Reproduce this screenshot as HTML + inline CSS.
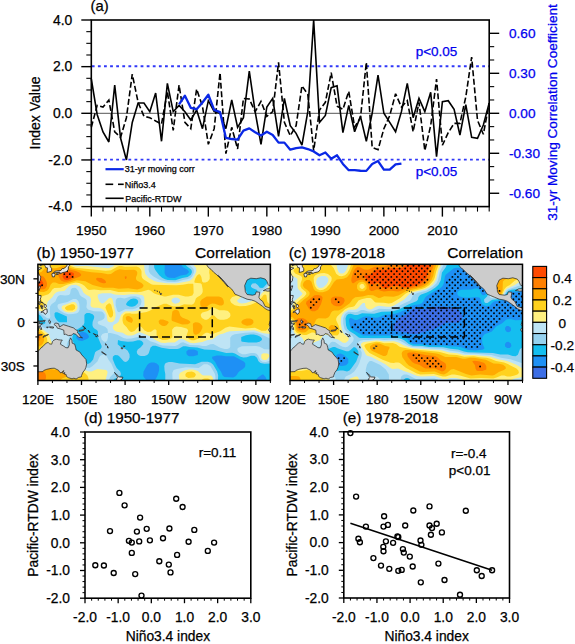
<!DOCTYPE html>
<html><head><meta charset="utf-8"><style>
html,body{margin:0;padding:0;background:#fff;overflow:hidden}
svg{display:block}
text{font-family:"Liberation Sans", sans-serif;stroke-width:0.25px}
</style></head><body>
<svg width="575" height="644" viewBox="0 0 575 644">
<rect width="575" height="644" fill="#fff"/>
<line x1="91.3" y1="113.30" x2="489.2" y2="113.30" stroke="#555" stroke-width="1"/>
<line x1="91.8" y1="66.25" x2="489.2" y2="66.25" stroke="#3038F8" stroke-width="1.8" stroke-dasharray="2.8 3.3"/>
<line x1="91.8" y1="159.55" x2="489.2" y2="159.55" stroke="#3038F8" stroke-width="1.8" stroke-dasharray="2.8 3.3"/>
<polyline points="91.30,127.30 97.15,105.37 103.00,107.00 108.85,100.00 114.71,131.96 120.56,137.32 126.41,117.73 132.26,74.11 138.11,102.34 143.96,116.33 149.81,117.73 155.67,121.00 161.52,124.03 167.37,91.37 173.22,130.33 179.07,85.08 184.92,122.40 190.77,128.69 196.63,89.04 202.48,106.30 208.33,144.32 214.18,128.69 220.03,72.71 225.88,153.65 231.74,127.30 237.59,148.99 243.44,98.37 249.29,99.07 255.14,111.67 260.99,101.40 266.84,116.33 272.70,111.67 278.55,62.45 284.40,122.40 290.25,135.69 296.10,125.66 301.95,85.78 307.80,94.41 313.66,150.62 319.51,110.03 325.36,102.34 331.21,72.71 337.06,106.30 342.91,109.33 348.76,91.37 354.62,127.06 360.47,117.73 366.32,62.45 372.17,147.35 378.02,149.69 383.87,128.69 389.72,115.63 395.58,93.71 401.43,107.00 407.28,100.70 413.13,131.73 418.98,102.34 424.83,150.62 430.69,125.66 436.54,79.01 442.39,145.26 448.24,132.66 454.09,123.33 459.94,123.33 465.79,96.97 471.65,57.09 477.50,120.30 483.35,134.29 489.20,103.04" fill="none" stroke="#000" stroke-width="1.6" stroke-dasharray="6 2.6" stroke-linejoin="miter" stroke-miterlimit="3"/>
<polyline points="91.30,78.78 97.15,114.47 103.00,131.96 108.85,141.99 114.71,85.08 120.56,138.02 126.41,159.95 132.26,122.40 138.11,103.04 143.96,103.04 149.81,111.67 155.67,93.01 161.52,141.29 167.37,83.44 173.22,111.67 179.07,105.37 184.92,111.67 190.77,120.06 196.63,110.03 202.48,128.69 208.33,100.70 214.18,111.67 220.03,113.30 225.88,128.69 231.74,100.00 237.59,127.30 243.44,117.73 249.29,71.08 255.14,111.67 260.99,144.32 266.84,107.00 272.70,98.37 278.55,136.39 284.40,98.37 290.25,125.66 296.10,133.36 301.95,145.02 307.80,111.67 313.66,20.00 319.51,122.40 325.36,115.40 331.21,87.64 337.06,85.78 342.91,132.66 348.76,105.37 354.62,131.73 360.47,116.33 366.32,141.29 372.17,113.30 378.02,75.05 383.87,113.30 389.72,122.40 395.58,131.73 401.43,111.67 407.28,83.44 413.13,117.73 418.98,98.37 424.83,111.67 430.69,92.31 436.54,156.68 442.39,101.64 448.24,100.70 454.09,109.33 459.94,134.99 465.79,104.67 471.65,137.32 477.50,138.26 483.35,124.96 489.20,103.04" fill="none" stroke="#000" stroke-width="1.6" stroke-linejoin="miter" stroke-miterlimit="3"/>
<polyline points="179.07,104.37 184.92,95.71 190.77,107.84 196.63,109.17 202.48,102.50 208.33,94.77 214.18,109.83 220.03,112.10 225.88,137.96 231.74,139.02 237.59,139.56 243.44,130.63 249.29,128.36 255.14,132.23 260.99,135.56 266.84,131.69 272.70,135.03 278.55,142.62 284.40,142.62 290.25,149.69 296.10,148.09 301.95,147.42 307.80,149.02 313.66,151.42 319.51,155.28 325.36,152.49 331.21,158.75 337.06,155.28 342.91,163.95 348.76,170.21 354.62,170.21 360.47,170.75 366.32,170.88 372.17,163.95 378.02,161.02 383.87,169.68 389.72,169.68 395.58,164.48 401.43,163.55" fill="none" stroke="#0A28E6" stroke-width="2.3" stroke-linejoin="round"/>
<rect x="91.3" y="20.0" width="397.90" height="186.60" fill="none" stroke="#000" stroke-width="1.6"/>
<line x1="81.30" y1="20.00" x2="91.30" y2="20.00" stroke="#000" stroke-width="1.4" />
<text x="72.3" y="24.8" font-size="13.9" text-anchor="end" fill="#000" stroke="#000" >4.0</text>
<line x1="86.30" y1="31.66" x2="91.30" y2="31.66" stroke="#000" stroke-width="1.1" />
<line x1="86.30" y1="43.33" x2="91.30" y2="43.33" stroke="#000" stroke-width="1.1" />
<line x1="86.30" y1="54.99" x2="91.30" y2="54.99" stroke="#000" stroke-width="1.1" />
<line x1="81.30" y1="66.65" x2="91.30" y2="66.65" stroke="#000" stroke-width="1.4" />
<text x="72.3" y="71.45" font-size="13.9" text-anchor="end" fill="#000" stroke="#000" >2.0</text>
<line x1="86.30" y1="78.31" x2="91.30" y2="78.31" stroke="#000" stroke-width="1.1" />
<line x1="86.30" y1="89.97" x2="91.30" y2="89.97" stroke="#000" stroke-width="1.1" />
<line x1="86.30" y1="101.64" x2="91.30" y2="101.64" stroke="#000" stroke-width="1.1" />
<line x1="81.30" y1="113.30" x2="91.30" y2="113.30" stroke="#000" stroke-width="1.4" />
<text x="72.3" y="118.1" font-size="13.9" text-anchor="end" fill="#000" stroke="#000" >0.0</text>
<line x1="86.30" y1="124.96" x2="91.30" y2="124.96" stroke="#000" stroke-width="1.1" />
<line x1="86.30" y1="136.62" x2="91.30" y2="136.62" stroke="#000" stroke-width="1.1" />
<line x1="86.30" y1="148.29" x2="91.30" y2="148.29" stroke="#000" stroke-width="1.1" />
<line x1="81.30" y1="159.95" x2="91.30" y2="159.95" stroke="#000" stroke-width="1.4" />
<text x="72.3" y="164.75" font-size="13.9" text-anchor="end" fill="#000" stroke="#000" >-2.0</text>
<line x1="86.30" y1="171.61" x2="91.30" y2="171.61" stroke="#000" stroke-width="1.1" />
<line x1="86.30" y1="183.27" x2="91.30" y2="183.27" stroke="#000" stroke-width="1.1" />
<line x1="86.30" y1="194.94" x2="91.30" y2="194.94" stroke="#000" stroke-width="1.1" />
<line x1="81.30" y1="206.60" x2="91.30" y2="206.60" stroke="#000" stroke-width="1.4" />
<text x="72.3" y="211.4" font-size="13.9" text-anchor="end" fill="#000" stroke="#000" >-4.0</text>
<line x1="489.20" y1="33.33" x2="499.20" y2="33.33" stroke="#000" stroke-width="1.4" />
<text x="509.0" y="38.12857142857142" font-size="13.6" text-anchor="start" fill="#0000EE" stroke="#0000EE" >0.60</text>
<line x1="489.20" y1="46.66" x2="494.20" y2="46.66" stroke="#000" stroke-width="1.1" />
<line x1="489.20" y1="59.99" x2="494.20" y2="59.99" stroke="#000" stroke-width="1.1" />
<line x1="489.20" y1="73.31" x2="499.20" y2="73.31" stroke="#000" stroke-width="1.4" />
<text x="509.0" y="78.11428571428571" font-size="13.6" text-anchor="start" fill="#0000EE" stroke="#0000EE" >0.30</text>
<line x1="489.20" y1="86.64" x2="494.20" y2="86.64" stroke="#000" stroke-width="1.1" />
<line x1="489.20" y1="99.97" x2="494.20" y2="99.97" stroke="#000" stroke-width="1.1" />
<line x1="489.20" y1="113.30" x2="499.20" y2="113.30" stroke="#000" stroke-width="1.4" />
<text x="509.0" y="118.10000000000001" font-size="13.6" text-anchor="start" fill="#0000EE" stroke="#0000EE" >0.00</text>
<line x1="489.20" y1="126.63" x2="494.20" y2="126.63" stroke="#000" stroke-width="1.1" />
<line x1="489.20" y1="139.96" x2="494.20" y2="139.96" stroke="#000" stroke-width="1.1" />
<line x1="489.20" y1="153.29" x2="499.20" y2="153.29" stroke="#000" stroke-width="1.4" />
<text x="509.0" y="158.0857142857143" font-size="13.6" text-anchor="start" fill="#0000EE" stroke="#0000EE" >-0.30</text>
<line x1="489.20" y1="166.61" x2="494.20" y2="166.61" stroke="#000" stroke-width="1.1" />
<line x1="489.20" y1="179.94" x2="494.20" y2="179.94" stroke="#000" stroke-width="1.1" />
<line x1="489.20" y1="193.27" x2="499.20" y2="193.27" stroke="#000" stroke-width="1.4" />
<text x="509.0" y="198.07142857142858" font-size="13.6" text-anchor="start" fill="#0000EE" stroke="#0000EE" >-0.60</text>
<line x1="91.30" y1="206.60" x2="91.30" y2="216.60" stroke="#000" stroke-width="1.4" />
<text x="91.3" y="235" font-size="13.7" text-anchor="middle" fill="#000" stroke="#000" >1950</text>
<line x1="103.00" y1="206.60" x2="103.00" y2="211.60" stroke="#000" stroke-width="1.1" />
<line x1="114.71" y1="206.60" x2="114.71" y2="211.60" stroke="#000" stroke-width="1.1" />
<line x1="126.41" y1="206.60" x2="126.41" y2="211.60" stroke="#000" stroke-width="1.1" />
<line x1="138.11" y1="206.60" x2="138.11" y2="211.60" stroke="#000" stroke-width="1.1" />
<line x1="149.81" y1="206.60" x2="149.81" y2="216.60" stroke="#000" stroke-width="1.4" />
<text x="149.81470588235294" y="235" font-size="13.7" text-anchor="middle" fill="#000" stroke="#000" >1960</text>
<line x1="161.52" y1="206.60" x2="161.52" y2="211.60" stroke="#000" stroke-width="1.1" />
<line x1="173.22" y1="206.60" x2="173.22" y2="211.60" stroke="#000" stroke-width="1.1" />
<line x1="184.92" y1="206.60" x2="184.92" y2="211.60" stroke="#000" stroke-width="1.1" />
<line x1="196.63" y1="206.60" x2="196.63" y2="211.60" stroke="#000" stroke-width="1.1" />
<line x1="208.33" y1="206.60" x2="208.33" y2="216.60" stroke="#000" stroke-width="1.4" />
<text x="208.32941176470587" y="235" font-size="13.7" text-anchor="middle" fill="#000" stroke="#000" >1970</text>
<line x1="220.03" y1="206.60" x2="220.03" y2="211.60" stroke="#000" stroke-width="1.1" />
<line x1="231.74" y1="206.60" x2="231.74" y2="211.60" stroke="#000" stroke-width="1.1" />
<line x1="243.44" y1="206.60" x2="243.44" y2="211.60" stroke="#000" stroke-width="1.1" />
<line x1="255.14" y1="206.60" x2="255.14" y2="211.60" stroke="#000" stroke-width="1.1" />
<line x1="266.84" y1="206.60" x2="266.84" y2="216.60" stroke="#000" stroke-width="1.4" />
<text x="266.8441176470588" y="235" font-size="13.7" text-anchor="middle" fill="#000" stroke="#000" >1980</text>
<line x1="278.55" y1="206.60" x2="278.55" y2="211.60" stroke="#000" stroke-width="1.1" />
<line x1="290.25" y1="206.60" x2="290.25" y2="211.60" stroke="#000" stroke-width="1.1" />
<line x1="301.95" y1="206.60" x2="301.95" y2="211.60" stroke="#000" stroke-width="1.1" />
<line x1="313.66" y1="206.60" x2="313.66" y2="211.60" stroke="#000" stroke-width="1.1" />
<line x1="325.36" y1="206.60" x2="325.36" y2="216.60" stroke="#000" stroke-width="1.4" />
<text x="325.3588235294118" y="235" font-size="13.7" text-anchor="middle" fill="#000" stroke="#000" >1990</text>
<line x1="337.06" y1="206.60" x2="337.06" y2="211.60" stroke="#000" stroke-width="1.1" />
<line x1="348.76" y1="206.60" x2="348.76" y2="211.60" stroke="#000" stroke-width="1.1" />
<line x1="360.47" y1="206.60" x2="360.47" y2="211.60" stroke="#000" stroke-width="1.1" />
<line x1="372.17" y1="206.60" x2="372.17" y2="211.60" stroke="#000" stroke-width="1.1" />
<line x1="383.87" y1="206.60" x2="383.87" y2="216.60" stroke="#000" stroke-width="1.4" />
<text x="383.8735294117647" y="235" font-size="13.7" text-anchor="middle" fill="#000" stroke="#000" >2000</text>
<line x1="395.58" y1="206.60" x2="395.58" y2="211.60" stroke="#000" stroke-width="1.1" />
<line x1="407.28" y1="206.60" x2="407.28" y2="211.60" stroke="#000" stroke-width="1.1" />
<line x1="418.98" y1="206.60" x2="418.98" y2="211.60" stroke="#000" stroke-width="1.1" />
<line x1="430.69" y1="206.60" x2="430.69" y2="211.60" stroke="#000" stroke-width="1.1" />
<line x1="442.39" y1="206.60" x2="442.39" y2="216.60" stroke="#000" stroke-width="1.4" />
<text x="442.38823529411764" y="235" font-size="13.7" text-anchor="middle" fill="#000" stroke="#000" >2010</text>
<line x1="454.09" y1="206.60" x2="454.09" y2="211.60" stroke="#000" stroke-width="1.1" />
<line x1="465.79" y1="206.60" x2="465.79" y2="211.60" stroke="#000" stroke-width="1.1" />
<line x1="477.50" y1="206.60" x2="477.50" y2="211.60" stroke="#000" stroke-width="1.1" />
<line x1="489.20" y1="206.60" x2="489.20" y2="211.60" stroke="#000" stroke-width="1.1" />
<text x="99.6" y="11.3" font-size="14.8" text-anchor="middle" fill="#000" stroke="#000" >(a)</text>
<text transform="translate(39.5,113) rotate(-90)" font-size="14" text-anchor="middle" stroke="#000">Index Value</text>
<text transform="translate(556.6,112.5) rotate(-90)" font-size="13.6" text-anchor="middle" fill="#0000EE" stroke="#0000EE">31-yr Moving Correlation Coefficient</text>
<text x="436.5" y="56.4" font-size="13.5" text-anchor="middle" fill="#0000EE" stroke="#0000EE" >p&lt;0.05</text>
<text x="436.5" y="176.4" font-size="13.5" text-anchor="middle" fill="#0000EE" stroke="#0000EE" >p&lt;0.05</text>
<line x1="105.50" y1="169.20" x2="123.70" y2="169.20" stroke="#0A28E6" stroke-width="2.2" />
<text x="124.7" y="172.4" font-size="9" text-anchor="start" fill="#000" stroke="#000" >31-yr moving corr</text>
<line x1="105.50" y1="184.30" x2="113.20" y2="184.30" stroke="#000" stroke-width="1.6" />
<line x1="118.00" y1="184.30" x2="123.70" y2="184.30" stroke="#000" stroke-width="1.6" />
<text x="124.7" y="187.5" font-size="9" text-anchor="start" fill="#000" stroke="#000" >Niño3.4</text>
<line x1="105.50" y1="198.30" x2="123.70" y2="198.30" stroke="#000" stroke-width="1.6" />
<text x="125.2" y="201.5" font-size="9" text-anchor="start" fill="#000" stroke="#000" >Pacific-RTDW</text>
<g transform="translate(37.9,264.3)">
<clipPath id="clipb"><rect x="0" y="0" width="232.5" height="116.2"/></clipPath>
<g clip-path="url(#clipb)">
<g transform="scale(1.0022,1.0017)">
<rect x="0" y="0" width="232.0" height="116.0" fill="#3C6EE6"/>
<path fill="#1E90F5" fill-rule="evenodd" d="M0.1,0.1L0.1,115.9L231.9,115.9L231.9,0.1Z"/>
<path fill="#14BEF0" fill-rule="evenodd" d="M0.1,0.1L0.1,115.9L108.4,115.9L105.6,112.4L105.1,110.9L105.4,107.1L109.1,100.6L110.9,98.9L113.1,98.1L115.9,98.1L118.6,99.1L120.4,100.9L120.9,102.1L120.9,106.1L119.4,111.1L117.6,114.4L116.1,115.9L217.4,115.9L219.6,112.9L223.9,110.1L224.9,110.1L227.1,112.4L228.6,115.9L231.9,115.9L231.9,0.1L142.6,0.1L144.9,2.9L148.9,5.1L150.6,6.9L150.6,8.1L148.4,10.1L142.4,11.1L136.4,13.6L130.9,13.4L129.1,12.6L127.4,11.1L126.4,8.6L126.6,0.1ZM173.9,92.4L178.6,91.1L183.1,91.1L187.1,91.9L195.6,91.9L205.4,97.1L206.9,98.9L206.9,101.6L206.4,102.9L204.6,104.6L201.4,106.4L199.9,107.9L198.4,110.6L196.9,112.1L194.9,112.9L186.1,112.4L184.4,110.9L182.6,106.9L179.4,102.6L176.9,97.6L173.9,94.1ZM148.1,87.1L150.4,85.1L155.9,85.1L158.9,86.4L159.6,87.1L159.6,90.6L154.9,91.9L151.1,91.9L149.9,91.4L148.4,89.9ZM47.6,68.1L49.6,69.9L50.9,71.9L50.9,72.9L49.4,74.4L44.1,76.6L40.6,76.1L38.4,73.9L38.4,71.6L40.6,68.9L44.4,67.4Z"/>
<path fill="#96D2F0" fill-rule="evenodd" d="M179.9,110.9L178.9,107.1L174.9,100.4L172.6,98.4L169.6,97.4L163.4,97.4L156.9,99.9L141.4,99.1L133.9,97.6L130.6,97.6L127.6,98.6L126.6,99.9L126.1,101.9L126.4,106.1L127.1,109.4L127.1,115.9L179.6,115.9ZM0.1,0.1L0.1,49.6L2.9,51.4L7.4,57.6L7.4,58.9L5.9,59.9L0.1,59.4L0.1,115.9L74.9,115.9L76.1,114.4L81.1,112.1L82.4,110.9L82.9,109.6L82.1,106.9L78.6,103.4L76.9,100.4L74.6,94.6L74.9,92.1L76.9,90.6L79.6,90.9L80.9,91.6L85.6,96.9L87.1,97.6L88.9,97.1L90.6,95.4L91.6,92.9L91.4,89.9L89.6,86.4L87.4,84.6L82.4,82.4L79.6,79.9L79.9,75.6L82.9,76.6L89.9,77.4L94.9,77.1L99.6,75.9L101.6,75.9L103.6,76.6L105.1,78.4L105.1,79.9L102.6,82.9L99.6,85.1L98.6,87.4L99.1,89.4L100.6,90.9L102.6,91.6L106.4,91.6L109.1,90.6L110.6,88.9L112.4,83.1L114.6,81.4L117.4,81.4L123.4,83.4L131.1,84.6L139.1,84.6L141.1,84.1L144.9,81.9L147.6,81.9L151.1,82.6L158.9,83.1L166.1,85.1L175.9,85.6L187.9,88.6L193.9,88.4L196.6,89.1L202.1,92.4L205.1,93.1L208.4,92.9L212.6,91.4L216.1,91.4L218.6,93.4L220.1,96.9L222.1,98.6L225.9,99.4L231.9,99.1L231.9,17.1L229.4,18.4L225.1,23.1L223.9,23.6L221.4,23.4L219.4,20.6L217.1,18.9L214.1,19.1L212.6,20.9L212.6,22.4L213.9,23.6L218.4,25.4L219.1,26.4L219.1,28.6L218.6,29.9L216.9,31.6L214.6,32.6L211.6,32.6L210.6,32.1L209.4,30.9L207.6,26.1L205.9,24.6L203.4,23.4L201.6,21.6L200.6,18.6L201.4,14.9L203.9,12.9L206.6,12.6L210.6,13.4L217.1,12.9L226.6,13.4L231.9,12.6L231.9,0.1L147.1,0.1L148.6,1.9L152.9,5.1L153.6,6.6L153.6,8.1L152.6,10.4L149.4,12.6L144.1,13.6L137.1,15.9L129.6,15.6L126.9,14.9L123.9,13.4L121.1,10.9L117.1,5.6L116.1,3.4L115.9,0.1ZM202.9,72.6L207.6,70.9L212.1,70.1L215.4,70.1L219.4,71.1L221.9,72.4L223.4,73.9L223.6,75.6L221.1,77.4L218.1,78.1L210.1,78.1L204.1,77.4L202.9,76.9ZM48.6,48.6L51.4,48.6L54.6,49.9L56.1,51.6L56.1,53.6L54.6,57.6L54.4,60.9L55.1,62.9L56.6,64.4L58.9,65.6L59.9,67.1L59.9,72.9L63.6,81.6L63.4,83.4L62.1,84.9L58.6,86.6L57.1,87.9L55.1,95.1L52.6,98.1L50.6,99.4L48.6,99.4L47.4,98.9L42.4,93.4L39.4,91.9L36.9,89.4L36.1,87.6L36.6,80.9L34.4,75.6L34.4,72.4L35.9,68.6L39.1,65.1L43.6,62.4L45.6,60.4L46.4,58.4L46.4,50.9L46.9,49.9ZM16.6,48.9L17.6,47.9L19.4,47.9L28.9,52.1L29.1,57.9L21.1,57.9L19.1,56.1L17.4,53.6L16.6,51.6ZM99.9,36.4L100.1,37.6L99.6,39.1L97.6,41.1L96.1,41.9L93.9,42.4L91.4,42.1L88.9,41.1L88.1,40.4L88.1,39.4L89.6,37.1L92.4,34.9L95.1,34.1L97.4,34.4L98.9,35.1Z"/>
<path fill="#BEE4F5" fill-rule="evenodd" d="M177.1,111.6L176.4,108.9L172.1,101.6L169.1,99.9L165.6,99.9L160.4,103.4L147.9,102.9L138.6,104.4L135.4,105.6L134.1,108.4L134.4,115.9L177.1,115.9ZM198.9,84.6L199.4,86.9L200.9,88.4L203.9,89.9L207.1,89.9L212.6,88.6L215.9,88.6L218.1,89.4L219.6,90.9L221.9,95.9L224.1,97.4L227.4,97.6L231.9,96.1L231.9,85.1L225.9,84.9L221.4,82.4L217.6,81.6L203.6,81.9L199.9,83.4ZM0.1,61.1L0.1,115.9L70.6,115.9L72.1,112.4L76.1,108.6L76.4,106.6L73.4,99.4L70.6,95.6L68.6,91.9L66.4,90.4L64.4,90.4L62.4,91.4L61.4,92.6L59.4,97.1L54.6,101.6L51.6,103.4L47.6,103.1L35.6,98.9L33.6,97.1L32.1,93.1L28.9,87.1L28.9,79.6L30.4,75.9L33.1,66.1L33.1,64.1L32.6,63.4L30.4,62.6L21.4,62.4L14.9,58.1L13.6,58.4L11.4,62.9L9.4,64.1L7.1,63.9L3.1,61.9ZM41.4,39.9L40.4,36.9L38.9,35.1L37.9,34.6L35.1,34.6L29.6,37.6L20.6,39.6L19.6,40.9L19.6,42.6L20.4,44.4L22.4,46.4L26.6,48.9L30.4,49.9L34.9,49.6L38.9,48.9L40.6,47.6L41.6,45.1ZM0.1,0.1L0.1,47.9L2.4,48.6L8.6,53.4L10.1,53.9L11.9,53.6L12.4,52.1L11.9,47.1L12.1,42.1L13.6,39.9L17.4,37.1L19.4,32.6L20.6,31.4L22.4,30.6L27.4,31.1L30.9,30.6L32.1,29.4L32.9,25.1L34.4,23.6L37.1,23.4L38.1,23.9L40.1,26.1L41.9,30.6L43.4,32.1L47.4,34.4L48.6,35.9L48.9,38.9L48.4,42.1L48.6,43.4L49.9,45.1L55.9,46.9L63.4,47.1L64.9,47.9L66.6,50.4L66.6,52.9L65.9,54.4L63.6,55.9L60.4,56.9L59.6,58.1L60.4,59.9L67.1,62.4L69.4,64.6L69.9,68.1L69.4,68.6L67.1,68.6L64.4,69.6L62.9,71.9L63.6,75.1L66.1,77.4L67.9,77.4L69.1,76.1L69.9,73.1L69.9,69.1L70.4,68.6L72.6,68.6L79.4,70.4L85.4,73.6L88.6,74.4L93.4,74.1L100.4,72.4L104.6,72.6L108.1,74.1L112.1,76.9L117.1,78.4L121.4,80.4L124.6,81.1L136.9,81.6L139.6,80.6L142.6,78.4L144.9,77.9L151.6,80.6L160.6,80.9L164.4,81.6L167.9,81.6L172.1,79.9L175.1,79.6L181.9,83.4L186.4,84.6L189.1,84.6L190.9,83.9L191.9,82.6L191.9,73.4L193.6,71.1L196.4,69.9L206.6,68.4L215.1,67.9L217.9,68.4L224.9,70.9L231.9,74.4L231.9,19.1L230.6,19.6L226.9,24.1L223.4,26.1L221.6,27.9L219.9,31.1L217.9,33.1L212.9,34.9L208.4,34.9L207.4,34.1L206.6,29.4L205.6,27.1L200.9,23.1L199.4,19.6L199.4,16.6L200.4,13.6L201.9,12.1L203.6,11.4L227.1,11.6L231.9,11.1L231.9,0.1L150.6,0.1L154.9,4.1L155.6,5.6L155.6,8.4L153.6,12.1L151.6,13.9L149.1,14.9L145.9,15.4L140.1,17.1L136.4,17.6L129.6,17.4L123.6,16.1L120.6,15.1L115.4,12.1L112.1,9.4L110.9,7.4L110.4,5.4L110.9,0.1ZM102.9,34.9L103.4,37.4L102.6,40.4L100.9,42.4L97.6,44.1L94.6,44.9L87.1,44.9L81.1,47.9L80.1,47.6L79.1,46.4L77.6,40.9L77.6,36.4L78.4,34.6L79.6,33.6L82.4,33.4L86.4,34.1L92.6,32.1L97.1,31.9L101.4,33.1Z"/>
<path fill="#FFF080" fill-rule="evenodd" d="M140.6,110.9L141.1,115.9L175.1,115.9L174.6,113.4L173.4,111.4L172.4,110.9L165.4,111.1L163.9,110.6L159.6,106.6L154.9,105.1L150.6,104.9L146.4,105.9L142.4,108.1L141.4,109.1ZM222.9,90.1L222.9,93.9L224.9,95.6L227.4,95.6L228.9,94.9L230.9,92.1L230.6,90.1L228.9,89.1L224.9,88.9ZM0.1,62.9L0.1,115.9L67.4,115.9L69.4,108.4L69.4,106.9L68.1,105.6L59.4,104.4L53.6,106.9L50.6,106.9L42.6,104.1L33.6,103.1L28.4,101.4L25.9,98.9L23.6,95.6L17.4,91.6L14.9,88.9L14.4,87.6L14.6,80.4L10.6,69.6L3.9,64.4ZM39.4,41.1L38.1,38.6L36.4,37.6L34.6,37.6L25.1,41.1L23.9,42.1L23.6,43.9L25.1,45.9L27.6,47.4L30.4,48.1L34.6,47.9L36.4,47.4L38.6,45.9L39.6,43.4ZM0.1,0.1L0.1,46.4L3.1,46.9L6.1,48.1L7.6,48.1L8.6,46.4L8.9,40.4L9.9,37.1L14.6,32.6L16.1,30.1L18.1,28.1L20.6,27.1L26.4,26.6L30.9,21.9L34.1,20.6L37.9,20.4L41.6,22.1L43.4,24.1L45.6,28.4L48.1,30.4L51.1,31.9L52.4,33.1L53.1,35.1L52.4,40.9L53.4,42.6L55.6,43.4L60.4,43.4L63.1,44.1L64.9,45.1L67.1,47.4L68.6,50.6L69.4,56.4L69.9,57.1L71.6,57.9L73.6,57.9L74.9,57.4L76.4,55.9L77.6,51.9L77.4,48.6L74.6,35.4L73.4,33.6L72.4,33.4L70.6,34.1L65.9,38.6L64.4,39.1L63.1,38.9L61.4,37.1L59.9,33.4L59.6,30.9L60.4,29.9L64.1,28.9L72.9,28.9L75.4,29.9L78.4,30.4L86.1,30.6L92.9,29.9L98.9,29.9L104.4,30.9L105.6,32.1L106.1,33.4L106.4,40.9L105.9,42.4L103.6,44.4L98.6,46.4L94.1,47.1L87.9,46.9L85.9,47.6L82.9,50.6L80.6,57.1L78.9,58.9L75.9,60.4L75.1,61.6L74.9,64.1L76.6,66.4L78.9,67.4L84.6,68.4L87.6,70.4L89.6,71.1L93.4,71.1L95.6,70.6L100.6,68.1L102.1,67.9L112.4,72.1L118.1,76.1L122.9,78.4L126.9,78.6L129.6,78.1L136.4,78.1L141.4,74.9L144.4,74.6L151.6,78.4L155.4,78.9L164.1,77.6L168.4,75.9L174.1,74.9L176.6,73.4L178.4,71.6L181.1,70.1L184.6,69.4L188.6,67.6L191.6,66.9L215.9,65.9L224.9,68.9L231.9,69.6L231.9,20.9L230.4,22.1L228.6,25.1L224.1,28.1L220.9,32.6L217.9,35.1L207.6,38.6L203.4,39.1L200.4,38.4L198.9,36.9L198.9,35.9L203.9,31.9L204.4,29.4L203.9,28.1L199.9,24.4L198.9,22.9L198.1,20.4L198.1,15.6L198.9,13.1L200.9,10.9L202.6,10.1L226.6,10.1L231.9,9.6L231.9,0.1L154.9,0.1L157.9,3.6L158.1,7.1L156.1,11.6L154.4,14.1L152.1,16.1L150.1,16.9L137.6,19.1L128.4,18.9L119.6,17.6L116.1,16.6L110.4,13.4L107.4,9.9L106.6,7.1L105.9,0.1L77.1,0.1L74.6,2.4L70.4,3.9L48.6,1.6L38.9,1.9L36.1,1.4L34.1,0.1ZM133.4,35.4L134.1,34.4L135.9,33.4L138.1,33.1L140.4,33.9L141.9,35.4L141.9,36.9L140.1,38.6L137.1,39.4L135.4,38.9L133.6,37.4Z"/>
<path fill="#FFD21E" fill-rule="evenodd" d="M163.1,115.9L172.1,115.6L169.9,114.1L166.6,114.1L164.6,114.6ZM147.1,109.9L147.4,112.1L150.1,113.6L155.4,112.9L156.4,112.4L157.6,110.6L157.4,109.4L156.1,108.1L153.6,107.1L149.4,107.6L147.9,108.6ZM0.1,64.4L0.1,115.9L50.6,115.9L50.4,113.4L49.4,111.1L47.4,108.9L45.4,107.6L41.6,106.6L35.1,106.6L28.4,104.9L19.9,100.6L15.9,99.1L7.1,94.4L7.1,86.9L8.9,82.6L9.6,78.1L9.1,73.9L6.9,69.6L3.9,66.6ZM37.4,41.6L35.6,39.9L33.6,39.9L28.9,41.6L27.1,43.1L27.1,44.1L28.1,45.4L29.6,46.1L34.6,46.1L37.1,44.4ZM71.4,38.9L70.1,39.4L68.1,41.1L67.4,43.4L71.1,52.1L72.1,53.1L73.4,53.1L74.9,51.4L75.1,47.9L73.1,40.4ZM231.9,0.1L174.1,0.1L171.1,5.1L170.9,8.4L171.4,10.6L171.4,14.6L169.6,17.1L167.1,18.1L164.9,18.1L163.9,17.1L163.1,12.6L161.6,9.9L159.9,10.1L158.6,11.4L156.9,14.4L156.1,17.1L156.4,18.4L162.1,18.9L163.4,19.9L164.4,24.9L164.4,27.6L163.6,29.4L161.9,31.1L158.9,32.9L157.6,34.1L156.4,37.9L155.1,39.6L153.4,40.4L145.9,39.9L140.9,41.9L135.4,42.1L132.6,41.4L128.4,39.4L125.6,39.4L117.4,42.9L111.6,46.4L108.4,47.6L97.9,49.4L93.6,49.4L91.9,48.9L87.4,49.1L85.4,50.9L84.6,52.6L84.4,55.9L84.9,58.4L85.6,59.9L88.6,62.9L90.4,65.6L91.9,67.1L93.4,67.6L96.4,66.6L99.1,63.4L101.1,61.9L102.1,61.9L103.4,62.6L106.4,66.1L109.6,67.6L112.9,67.4L115.9,65.1L117.6,65.1L118.4,66.1L118.4,70.9L120.6,73.9L124.4,75.6L129.1,75.4L133.1,73.9L134.1,72.4L133.9,65.4L135.9,62.9L138.1,62.1L142.9,62.6L148.4,64.1L149.6,65.4L149.9,66.4L148.4,70.9L148.6,72.4L151.1,74.9L153.4,75.9L155.9,75.9L160.6,74.1L165.9,69.4L167.6,68.4L169.6,68.4L172.6,69.6L174.1,69.6L181.9,66.9L187.1,63.4L191.1,62.1L206.9,64.1L216.6,63.4L223.1,66.4L227.4,66.4L229.4,64.6L230.9,61.6L231.9,60.6L231.9,39.9L230.4,39.1L228.9,37.1L228.1,31.1L227.4,30.4L226.4,30.1L225.1,30.6L222.9,33.6L220.1,36.4L217.9,37.9L212.4,40.4L207.4,41.6L201.1,41.9L196.4,40.9L192.9,38.4L191.9,36.4L191.9,35.1L193.9,32.6L199.9,30.9L201.1,29.4L200.6,28.1L198.1,25.4L196.6,21.4L196.9,13.1L197.9,10.6L199.1,9.4L201.9,8.4L204.6,8.1L231.9,8.1ZM162.6,49.9L164.1,48.1L169.6,46.6L173.9,43.4L176.1,43.4L181.1,45.9L185.9,45.9L188.9,46.4L189.9,46.9L191.9,49.1L192.1,51.4L191.4,52.9L188.9,54.6L185.6,55.4L181.6,55.4L179.1,54.4L175.9,51.1L173.9,50.9L170.1,54.6L168.4,55.4L166.6,55.4L163.6,53.6L162.6,51.6ZM0.1,5.4L0.1,44.6L3.6,44.4L4.6,43.9L5.4,42.6L5.1,39.1L2.9,33.6L3.6,32.1L10.4,29.9L12.6,27.9L14.4,25.1L16.4,23.6L22.6,23.4L29.1,20.4L37.6,18.1L41.1,18.6L44.1,19.9L46.4,21.4L49.6,24.9L51.1,25.6L56.1,25.1L62.6,25.9L72.1,25.6L80.4,27.6L91.4,27.4L99.1,27.9L103.4,27.4L110.1,25.4L112.4,26.1L115.4,28.6L117.4,29.6L125.9,32.1L127.6,32.1L134.9,30.4L140.4,30.4L147.1,32.1L150.1,32.1L154.1,31.1L155.4,28.6L155.1,19.9L154.6,19.4L150.1,19.4L144.6,20.4L138.1,20.9L114.9,20.4L113.1,19.9L105.6,15.1L104.1,13.6L103.4,11.4L103.4,7.1L102.9,5.4L101.1,3.1L98.4,2.1L86.9,2.4L83.6,1.6L81.4,1.6L79.6,2.1L72.9,5.9L67.6,6.4L37.4,3.4L32.6,1.6L31.1,0.1L3.6,0.1L2.4,3.1Z"/>
<path fill="#FFAA00" fill-rule="evenodd" d="M0.1,101.6L0.1,115.9L21.9,115.9L24.1,114.1L28.9,111.9L29.9,110.6L29.6,109.4L28.4,108.4L22.6,105.9L14.9,104.9L9.1,102.1L6.4,101.4ZM0.1,66.4L0.4,82.4L3.4,80.9L5.1,78.9L6.1,76.4L6.1,73.6L5.4,71.6L3.6,69.1ZM157.1,57.9L155.4,58.6L154.6,59.6L154.9,67.1L155.6,69.6L156.9,70.4L158.1,70.4L160.6,69.1L162.6,66.9L164.1,63.6L164.1,61.6L161.9,59.1L159.9,58.1ZM120.4,56.6L120.9,59.1L123.4,61.1L124.9,61.6L126.6,61.6L128.4,60.9L130.4,58.4L130.4,57.6L129.6,56.9L124.9,55.1L122.1,55.1ZM203.1,57.1L203.1,58.4L204.4,59.9L208.6,61.4L212.1,60.9L213.6,60.1L215.1,58.4L214.9,56.1L213.6,54.9L211.6,54.1L208.4,54.1L205.9,54.9L204.1,55.9ZM88.6,51.9L87.6,53.1L88.1,55.6L90.1,57.4L93.6,58.6L94.9,56.1L94.1,53.9L91.9,52.1L90.4,51.6ZM134.1,47.4L133.4,53.1L133.4,55.9L134.1,56.6L143.9,60.1L149.6,59.9L152.1,58.4L151.9,57.1L150.1,55.6L143.9,53.1L142.1,51.4L140.9,47.4L139.9,46.1L138.6,45.6L136.6,45.6L134.9,46.4ZM161.9,37.4L162.1,40.9L162.6,41.9L164.6,43.4L167.1,43.4L171.4,40.1L173.9,39.1L176.6,39.4L181.4,41.1L183.6,41.1L185.1,40.1L185.6,38.6L185.4,36.4L184.4,34.1L182.9,32.9L180.6,32.1L168.4,32.1L163.4,35.1ZM0.1,8.6L0.1,27.4L5.9,27.6L9.1,26.4L10.9,24.4L12.9,19.9L14.9,18.1L17.6,18.1L21.1,19.6L25.1,19.6L31.1,18.4L38.9,15.9L47.4,16.9L54.6,20.6L65.1,23.4L75.1,23.4L80.4,24.4L90.1,23.9L99.1,25.1L103.4,23.9L104.9,22.6L105.4,21.4L105.1,20.4L103.4,18.6L99.1,16.4L97.9,14.9L97.9,12.9L99.1,9.9L99.1,7.6L97.9,6.1L95.9,5.4L87.1,5.6L81.4,4.9L77.4,6.4L72.9,9.6L69.9,9.9L63.6,8.6L53.6,7.9L47.1,6.9L34.1,4.1L27.9,1.6L25.1,1.6L17.9,3.9L13.9,3.9L11.4,3.1L8.9,3.1L7.1,3.9L3.4,7.6Z"/>
<path fill="#FF8000" fill-rule="evenodd" d="M0.1,105.9L0.1,115.9L7.1,115.9L8.1,113.6L8.1,110.9L7.1,108.6L4.4,106.6ZM0.4,69.4L0.1,77.1L1.6,76.1L2.6,74.1L2.4,72.1ZM58.1,14.1L58.4,15.6L61.6,17.9L65.1,18.9L66.6,18.9L68.1,18.1L67.6,16.6L66.4,15.4L63.4,13.6L59.1,13.4ZM87.9,11.9L86.9,12.1L86.6,12.6L87.1,14.6L87.9,14.6L88.6,13.1L88.4,12.1ZM0.1,10.9L0.1,25.1L5.9,24.9L7.6,23.9L8.9,21.9L9.1,19.1L8.6,17.1L6.9,13.9L5.4,12.1L2.9,11.1ZM20.4,9.4L20.4,11.4L22.4,15.4L23.4,16.4L25.9,17.4L28.9,17.4L32.4,16.4L37.1,13.9L41.1,12.6L43.1,11.1L43.1,9.9L41.4,8.1L37.9,6.6L30.6,4.9L26.6,4.9L24.9,5.4L21.6,7.4Z"/>
<path fill="#FF4A00" fill-rule="evenodd" d="M0.1,13.4L0.1,22.9L3.4,22.6L5.4,21.1L5.4,18.6L3.1,14.9L1.9,13.9ZM24.6,12.4L26.1,14.9L28.1,15.6L30.4,15.4L32.9,14.1L35.6,11.6L36.1,9.4L35.1,8.4L33.1,7.6L28.4,7.4L26.6,8.1L25.1,9.6Z"/>
</g>
<path d="M29.2,7.0h0.01M26.4,9.8h0.01M31.9,9.8h0.01M29.2,12.6h0.01M34.7,12.6h0.01M1.4,18.2h0.01M4.2,21.0h0.01" stroke="#000" stroke-width="1.9" stroke-linecap="round"/>
<path d="M0.0,87.0L2.2,85.0L3.2,83.4L5.1,82.2L6.4,80.5L8.4,78.9L10.2,78.1L11.9,79.7L13.8,79.9L14.7,77.1L16.0,75.8L18.3,74.8L20.2,75.4L22.5,75.7L24.4,75.8L23.2,77.4L22.5,79.9L25.7,81.8L28.0,83.4L30.2,83.5L31.4,80.6L31.4,76.8L32.7,73.6L34.0,76.1L34.3,78.9L36.8,79.9L37.8,83.5L38.2,85.7L41.9,87.7L43.9,90.6L46.1,93.0L48.1,95.3L48.8,99.6L48.0,103.1L46.9,105.6L45.0,107.9L43.7,111.1L43.4,112.6L40.7,113.1L38.2,114.7L36.0,113.9L34.1,114.5L30.5,113.4L28.6,112.1L28.2,110.1L26.3,109.8L26.9,108.2L25.6,109.1L24.6,108.8L26.0,106.3L25.0,107.0L23.1,108.6L22.1,108.2L20.5,105.9L16.3,103.9L13.1,104.1L8.9,105.0L5.8,106.2L5.1,107.3L0.0,107.5ZM16.0,60.0L18.0,58.7L20.6,59.4L21.7,62.7L25.4,60.3L30.4,61.9L35.6,63.6L37.5,65.2L40.1,66.8L39.5,68.4L41.0,69.7L42.6,72.3L44.6,73.5L40.7,72.9L37.9,69.9L35.2,69.3L33.7,71.0L30.5,71.3L27.6,69.9L26.2,70.3L25.9,65.9L22.1,64.5L19.5,63.9L18.6,62.0L16.4,60.4ZM168.3,0.0L169.4,1.5L170.5,3.2L173.2,5.1L175.8,8.0L178.2,9.9L180.5,11.9L182.9,13.5L185.4,16.7L187.9,19.8L190.1,21.8L192.1,23.4L193.8,24.8L195.7,27.5L197.0,29.8L200.2,31.1L204.7,33.0L209.2,34.9L213.8,35.7L217.4,37.0L221.0,39.4L224.7,42.1L227.3,44.3L230.0,45.8L232.5,46.3L232.5,43.9L227.3,42.1L224.7,37.0L222.3,35.3L221.0,33.0L221.9,28.0L218.3,27.5L217.4,30.2L214.6,30.9L209.2,30.2L207.5,27.5L206.8,21.2L209.2,15.7L212.9,13.9L218.3,14.4L222.8,13.5L227.3,14.8L229.0,17.1L230.3,20.3L231.3,21.5L232.5,20.0L232.5,0.0ZM225.4,26.3L228.9,24.5L231.8,24.4L232.5,24.8L232.5,26.7L229.6,26.9L227.7,26.4ZM232.5,56.4L231.8,58.1L231.2,60.3L232.1,61.7L232.5,62.5L232.5,63.0L231.3,64.2L230.6,65.4L231.3,66.8L232.5,68.0Z" fill="#CCCCCC" stroke="#222" stroke-width="0.7" stroke-linejoin="round"/>
<path d="M0.0,0.0L12.1,0.0L12.5,2.5L13.7,4.2L13.8,5.8L13.5,7.0L10.9,7.8L9.2,8.1L9.4,5.8L9.6,3.6L7.7,3.2L7.4,2.0L6.4,0.3L4.4,0.6L1.9,1.7L2.8,0.3L2.2,0.0L1.3,0.0L0.0,0.3ZM0.0,4.1L1.2,3.2L3.8,3.8L2.2,4.8L0.6,5.8L-0.6,7.1L0.3,8.0L1.3,10.7L2.8,12.1L2.8,13.2L2.6,14.5L2.3,16.6L0.9,18.0L0.0,19.2ZM0.1,24.7L1.2,26.3L2.3,22.8L2.8,21.6L1.5,21.6L0.3,23.7ZM13.9,9.7L14.5,12.5L16.4,12.6L17.3,10.0L16.0,8.9L14.2,9.2ZM18.2,9.7L20.6,8.4L21.4,9.3L18.9,10.5ZM15.8,8.7L18.2,8.3L21.9,7.8L22.4,9.4L24.6,8.3L27.3,7.8L28.9,7.1L30.4,5.1L30.5,2.5L31.8,1.3L31.8,0.0L29.1,0.0L28.9,1.5L27.6,3.1L25.1,4.6L24.4,4.1L23.1,6.1L20.3,6.5L17.9,6.8L15.8,8.1ZM0.0,31.2L0.9,31.1L3.2,31.2L2.9,33.4L2.3,35.0L2.9,37.8L5.8,39.2L4.7,38.1L2.5,37.9L0.9,37.2L0.0,36.3L-0.3,34.4L0.4,34.0ZM0.4,38.5L2.2,38.9L1.7,40.4L0.6,39.8ZM6.1,39.9L8.0,40.4L8.6,42.1L7.3,43.6L6.4,42.3ZM2.9,40.8L4.5,41.4L3.9,42.7L2.8,42.7ZM3.6,42.4L4.9,42.3L4.7,44.6L3.6,44.3ZM2.9,47.9L5.1,46.6L7.3,45.0L9.0,44.6L9.4,47.9L7.8,50.0L6.1,49.1L5.7,47.6L3.1,48.1ZM-1.5,50.5L-1.0,50.4L-1.5,51.7ZM-0.7,66.1L-0.9,63.2L-1.7,62.2L-0.7,58.1L0.7,56.8L4.4,56.6L7.3,55.9L6.5,57.5L1.5,57.4L1.2,59.6L4.7,59.4L2.6,60.7L1.9,61.6L3.3,63.2L3.8,65.2L2.3,64.9L1.5,62.0L0.4,62.3L0.7,66.1ZM11.2,55.5L12.4,56.6L12.6,58.1L11.9,59.3L10.9,57.4ZM11.6,62.5L15.7,62.7L15.4,63.8L11.9,63.3ZM8.7,62.7L10.5,62.9L9.2,63.6ZM5.8,71.6L10.6,70.2L7.3,72.0L5.1,73.1ZM-0.3,70.9L4.4,70.0L4.1,70.7L0.0,71.0ZM-1.5,71.9L1.2,72.8L-0.7,72.5ZM41.1,66.1L44.3,65.7L46.8,64.2L45.8,66.1L41.3,67.0ZM44.8,61.9L47.2,63.9L48.1,64.9L46.5,62.7ZM50.3,65.8L52.2,68.0L51.1,68.1L50.4,66.8ZM57.5,71.6L59.3,72.3L59.0,72.6L57.7,72.0ZM59.0,70.2L60.3,72.0L59.6,71.6ZM55.5,69.3L58.0,70.4L57.4,70.6L55.7,69.7ZM67.6,79.3L68.6,80.8L67.9,80.9ZM69.5,81.6L70.3,83.8L69.8,83.7ZM63.9,87.4L68.4,90.5L67.9,90.6L63.8,88.0ZM83.3,83.4L85.0,83.7L84.7,84.5L83.4,84.4ZM85.4,81.6L87.2,81.9L85.9,82.5ZM76.6,108.1L79.2,110.7L81.2,112.6L85.0,112.9L84.1,115.0L82.7,115.5L82.1,116.3L79.2,116.3L79.3,115.6L78.2,115.0L79.8,113.3L78.8,111.3L77.5,109.5ZM122.2,29.3L122.9,30.6L123.7,29.6L123.2,28.8ZM121.2,27.7L121.8,28.2L122.1,27.9L121.5,27.6ZM118.9,26.7L119.6,27.3L119.7,26.9L119.2,26.6ZM116.7,26.0L117.1,26.3L117.3,25.9ZM179.9,11.3L183.4,15.1L186.7,18.6L189.8,22.4L190.2,22.1L187.2,18.2L183.8,14.7L180.3,11.0Z" fill="#E8E8E8" stroke="#222" stroke-width="0.8" stroke-linejoin="round"/>
</g>
<rect x="101.72" y="43.58" width="72.66" height="29.05" fill="none" stroke="#000" stroke-width="1.5" stroke-dasharray="8 4"/>
<rect x="0" y="0" width="232.5" height="116.2" fill="none" stroke="#000" stroke-width="1.5"/>
<line x1="-4.50" y1="101.68" x2="0.00" y2="101.68" stroke="#000" stroke-width="1.3" />
<line x1="-2.50" y1="87.15" x2="0.00" y2="87.15" stroke="#000" stroke-width="1.0" />
<line x1="-2.50" y1="72.62" x2="0.00" y2="72.62" stroke="#000" stroke-width="1.0" />
<line x1="-4.50" y1="58.10" x2="0.00" y2="58.10" stroke="#000" stroke-width="1.3" />
<line x1="-2.50" y1="43.58" x2="0.00" y2="43.58" stroke="#000" stroke-width="1.0" />
<line x1="-2.50" y1="29.05" x2="0.00" y2="29.05" stroke="#000" stroke-width="1.0" />
<line x1="-4.50" y1="14.53" x2="0.00" y2="14.53" stroke="#000" stroke-width="1.3" />
<line x1="0.00" y1="116.20" x2="0.00" y2="120.70" stroke="#000" stroke-width="1.3" />
<line x1="14.53" y1="116.20" x2="14.53" y2="118.70" stroke="#000" stroke-width="1.0" />
<line x1="29.06" y1="116.20" x2="29.06" y2="118.70" stroke="#000" stroke-width="1.0" />
<line x1="43.59" y1="116.20" x2="43.59" y2="120.70" stroke="#000" stroke-width="1.3" />
<line x1="58.12" y1="116.20" x2="58.12" y2="118.70" stroke="#000" stroke-width="1.0" />
<line x1="72.66" y1="116.20" x2="72.66" y2="118.70" stroke="#000" stroke-width="1.0" />
<line x1="87.19" y1="116.20" x2="87.19" y2="120.70" stroke="#000" stroke-width="1.3" />
<line x1="101.72" y1="116.20" x2="101.72" y2="118.70" stroke="#000" stroke-width="1.0" />
<line x1="116.25" y1="116.20" x2="116.25" y2="118.70" stroke="#000" stroke-width="1.0" />
<line x1="130.78" y1="116.20" x2="130.78" y2="120.70" stroke="#000" stroke-width="1.3" />
<line x1="145.31" y1="116.20" x2="145.31" y2="118.70" stroke="#000" stroke-width="1.0" />
<line x1="159.84" y1="116.20" x2="159.84" y2="118.70" stroke="#000" stroke-width="1.0" />
<line x1="174.38" y1="116.20" x2="174.38" y2="120.70" stroke="#000" stroke-width="1.3" />
<line x1="188.91" y1="116.20" x2="188.91" y2="118.70" stroke="#000" stroke-width="1.0" />
<line x1="203.44" y1="116.20" x2="203.44" y2="118.70" stroke="#000" stroke-width="1.0" />
<line x1="217.97" y1="116.20" x2="217.97" y2="120.70" stroke="#000" stroke-width="1.3" />
<line x1="232.50" y1="116.20" x2="232.50" y2="118.70" stroke="#000" stroke-width="1.0" />
</g>
<text x="24.9" y="283.625" font-size="13.6" text-anchor="end" fill="#000" stroke="#000" >30N</text>
<text x="24.9" y="327.20000000000005" font-size="13.6" text-anchor="end" fill="#000" stroke="#000" >0</text>
<text x="24.9" y="370.77500000000003" font-size="13.6" text-anchor="end" fill="#000" stroke="#000" >30S</text>
<text x="37.9" y="404.4" font-size="13.6" text-anchor="middle" fill="#000" stroke="#000" >120E</text>
<text x="81.49375" y="404.4" font-size="13.6" text-anchor="middle" fill="#000" stroke="#000" >150E</text>
<text x="125.0875" y="404.4" font-size="13.6" text-anchor="middle" fill="#000" stroke="#000" >180</text>
<text x="168.68125" y="404.4" font-size="13.6" text-anchor="middle" fill="#000" stroke="#000" >150W</text>
<text x="212.275" y="404.4" font-size="13.6" text-anchor="middle" fill="#000" stroke="#000" >120W</text>
<text x="255.86875" y="404.4" font-size="13.6" text-anchor="middle" fill="#000" stroke="#000" >90W</text>
<text x="36.6" y="257.7" font-size="15.5" text-anchor="start" fill="#000" stroke="#000" >(b) 1950-1977</text>
<text x="270.9" y="257.7" font-size="15.5" text-anchor="end" fill="#000" stroke="#000" >Correlation</text>
<g transform="translate(290.0,264.3)">
<clipPath id="clipc"><rect x="0" y="0" width="232.5" height="116.2"/></clipPath>
<g clip-path="url(#clipc)">
<g transform="scale(1.0022,1.0017)">
<rect x="0" y="0" width="232.0" height="116.0" fill="#3C6EE6"/>
<path fill="#1E90F5" fill-rule="evenodd" d="M0.1,0.1L0.1,115.9L231.9,115.9L231.9,0.1ZM171.9,51.9L171.9,53.6L171.1,55.6L168.6,57.6L167.1,58.1L156.4,58.4L154.1,59.1L147.4,63.1L143.4,64.9L125.9,69.6L121.6,69.6L113.1,67.6L107.1,66.9L105.1,66.1L103.6,64.4L103.6,61.1L104.4,58.9L106.9,54.9L108.6,53.6L116.1,50.1L121.6,45.1L124.6,43.9L132.4,45.1L135.9,44.4L140.1,42.4L152.9,42.1L158.9,43.4L164.1,43.9L166.9,44.9L169.9,47.6Z"/>
<path fill="#14BEF0" fill-rule="evenodd" d="M166.9,29.9L168.6,31.9L173.1,33.1L179.1,33.4L184.9,32.6L188.9,33.1L190.1,34.6L190.9,38.1L191.9,40.1L195.1,41.6L198.1,41.6L199.6,41.1L201.6,38.6L203.9,36.9L213.1,35.6L214.9,34.4L216.9,29.6L218.9,27.6L220.4,27.1L226.9,27.4L231.9,26.4L231.9,0.1L195.9,0.1L195.6,29.6L194.4,30.6L192.4,30.9L190.9,29.6L189.4,25.9L188.1,24.6L186.9,24.1L184.4,24.1L180.9,25.1L171.1,25.4L168.6,26.4L167.1,27.9ZM0.1,0.1L0.1,115.9L231.9,115.9L231.9,55.6L224.9,55.9L220.9,54.9L217.1,54.9L215.6,55.4L211.4,59.1L205.6,62.1L201.4,67.1L194.1,69.9L192.1,72.6L191.6,75.1L191.9,78.9L194.1,83.9L193.1,84.9L191.6,85.4L184.9,86.1L178.1,85.6L170.6,82.9L166.6,82.1L159.9,81.9L154.4,81.1L138.9,81.1L132.1,79.9L122.9,79.9L120.6,78.6L117.1,74.6L115.1,73.1L112.4,71.9L108.9,71.1L72.9,71.1L63.4,65.9L60.1,62.6L58.9,56.9L58.9,54.9L59.9,53.6L61.6,53.9L64.9,55.6L66.9,55.6L73.1,52.6L75.4,52.1L78.9,52.1L85.6,53.4L87.9,53.1L93.9,50.6L102.4,49.9L106.9,48.9L114.6,45.6L120.9,41.6L123.9,40.6L129.1,39.9L131.4,38.9L132.9,37.4L134.6,33.6L136.1,31.9L143.9,26.9L149.6,24.1L152.1,21.9L153.6,18.6L154.6,12.1L155.4,10.4L163.4,3.9L166.1,3.4L174.1,3.4L180.6,0.1ZM58.1,94.4L58.1,98.6L55.9,100.9L52.1,101.6L43.4,101.4L43.4,94.1L47.1,90.1L48.6,89.4L50.4,89.1L53.4,90.4ZM216.1,77.6L218.1,77.4L220.4,79.1L220.9,81.6L219.4,83.6L216.6,83.6L214.6,82.1L214.4,79.6ZM216.1,61.6L218.1,61.6L220.4,63.4L220.6,65.9L219.4,67.4L217.6,67.9L216.1,67.4L214.6,65.4L214.6,63.4Z"/>
<path fill="#96D2F0" fill-rule="evenodd" d="M231.9,1.9L202.9,1.6L199.6,2.6L198.4,3.9L197.4,6.6L197.6,29.6L196.6,32.1L193.6,35.1L193.9,37.6L195.1,38.6L197.1,38.6L200.4,36.1L202.1,35.4L211.4,34.4L213.9,32.6L215.9,28.6L218.1,26.4L220.9,25.4L225.6,24.9L231.9,23.1ZM0.1,0.1L0.1,115.9L113.4,115.9L113.6,115.1L115.6,113.4L117.4,113.4L118.9,114.1L120.6,115.9L231.9,115.9L231.9,83.4L230.9,83.6L229.4,84.9L227.4,90.4L225.1,91.9L222.1,91.6L217.6,90.1L209.9,90.1L202.4,88.6L177.6,87.9L173.6,87.1L167.6,85.1L160.1,84.4L152.6,82.9L138.6,82.6L132.4,81.6L122.6,81.4L118.6,79.6L113.6,75.6L111.1,74.4L108.1,73.6L70.1,73.6L68.6,73.1L64.6,69.9L59.6,66.9L57.1,64.4L55.9,60.9L55.4,53.9L56.6,50.9L58.4,49.6L60.6,49.4L64.6,50.6L67.4,50.6L71.9,48.9L83.9,49.4L91.6,47.4L101.9,47.1L108.6,45.1L118.6,39.9L126.1,36.9L127.6,35.4L128.1,32.9L129.4,31.1L130.9,30.1L136.6,28.1L140.6,26.1L145.1,23.1L148.1,20.4L150.4,15.9L151.6,8.1L155.6,2.6L156.6,0.1ZM31.6,87.6L33.9,85.6L38.9,84.4L42.9,82.6L44.9,82.6L47.9,84.1L56.1,86.9L58.4,86.9L60.1,85.9L63.4,82.9L64.9,82.9L66.6,84.4L68.1,86.9L68.4,90.9L66.1,97.1L61.1,104.1L59.4,105.9L56.9,106.9L52.9,106.1L49.4,106.1L45.1,107.1L43.6,106.9L41.4,105.6L33.9,99.4L32.9,97.1L32.6,94.9L31.4,91.1Z"/>
<path fill="#BEE4F5" fill-rule="evenodd" d="M54.1,114.9L54.1,115.9L89.9,115.9L89.1,113.9L86.9,112.1L84.1,111.9L78.6,112.4L76.1,110.1L75.6,108.4L75.6,105.1L76.9,100.1L78.9,97.1L79.9,96.6L81.6,96.6L90.1,100.6L95.6,105.1L98.6,109.9L98.9,115.9L110.4,115.9L110.6,113.1L111.4,111.6L113.6,110.1L116.6,110.1L119.1,110.9L122.6,113.1L125.6,114.4L143.9,113.9L147.1,114.9L148.6,115.9L231.9,115.9L231.9,98.9L219.9,94.9L210.6,93.4L200.9,90.6L184.6,89.4L174.4,89.1L168.4,87.4L160.1,86.4L151.6,84.4L141.1,84.1L130.9,82.9L122.4,82.6L118.6,81.4L109.9,76.4L106.1,75.4L101.6,75.1L94.1,75.6L88.9,74.9L83.9,74.9L77.9,75.6L73.6,75.6L69.9,76.4L67.9,78.1L68.4,81.6L71.6,88.1L71.4,91.6L69.1,98.9L67.4,102.4L64.1,106.9L60.9,109.6L55.6,112.1ZM198.9,6.1L198.4,7.9L198.9,30.9L199.4,32.6L200.6,33.6L208.4,33.9L210.6,33.4L213.4,31.1L215.9,26.6L217.6,25.1L231.9,20.1L231.9,3.1L204.4,2.6L200.9,3.6L199.9,4.4ZM0.1,115.9L45.9,115.9L45.1,113.1L39.4,107.6L36.1,105.1L28.9,101.6L26.9,99.6L25.1,96.9L23.1,94.9L21.6,94.1L21.6,87.1L24.4,85.9L29.1,82.6L34.1,82.4L37.1,81.6L38.9,80.4L40.6,78.1L42.1,77.4L44.9,77.6L49.9,81.1L52.6,82.4L55.4,82.9L57.6,82.4L60.6,79.6L63.1,76.6L63.6,74.1L62.9,72.4L61.4,70.9L57.4,68.4L54.4,64.9L53.1,59.4L53.1,53.9L54.6,50.1L56.4,48.4L58.4,47.4L65.4,47.9L67.6,47.4L71.1,45.6L73.6,45.6L77.6,47.1L81.1,47.4L88.9,44.4L100.6,44.9L106.9,42.9L111.4,40.1L119.4,36.4L120.9,34.9L122.4,31.4L124.1,29.9L127.1,28.6L135.9,26.4L142.6,22.4L145.9,19.1L147.6,16.1L149.6,7.1L153.4,0.1L0.1,0.1L0.1,57.1L1.4,58.4L2.1,60.6L1.9,67.1L1.4,68.6L0.1,69.9Z"/>
<path fill="#FFF080" fill-rule="evenodd" d="M68.9,115.6L68.1,113.1L67.1,112.1L65.4,111.9L60.1,113.9L58.1,115.9ZM0.1,101.6L0.1,115.9L39.9,115.9L38.4,111.9L35.1,107.9L27.9,104.9L22.6,101.9L19.6,101.1L15.6,101.6ZM70.9,79.6L70.9,81.1L71.6,83.1L73.9,86.4L75.6,90.1L76.9,91.4L81.4,92.6L95.1,99.9L99.4,103.1L102.1,104.6L107.6,104.1L109.1,104.4L113.6,106.4L119.9,108.4L126.9,111.6L131.6,112.1L144.4,111.6L152.4,114.4L156.6,114.4L160.4,113.4L165.6,113.4L170.4,114.4L173.9,115.9L221.1,115.9L222.6,114.6L224.6,113.9L231.9,112.6L231.9,104.1L226.4,100.6L219.4,97.6L215.4,96.4L207.6,94.9L199.1,92.1L183.9,90.6L173.4,90.6L166.9,88.9L159.1,88.1L150.9,85.9L122.9,83.9L117.9,82.6L112.9,80.6L108.9,78.4L103.9,76.9L93.4,77.1L88.1,76.1L84.9,76.1L73.6,77.6L71.9,78.4ZM200.4,30.6L201.6,32.1L203.9,32.9L208.4,32.9L210.1,32.4L212.6,30.4L214.9,25.9L216.6,24.1L223.4,21.1L228.6,17.9L231.9,17.1L231.9,4.4L225.9,3.9L209.9,4.1L204.9,3.6L201.9,4.4L200.9,5.1L199.4,8.4L199.9,14.6L199.6,26.1ZM4.1,68.1L5.9,70.1L11.4,72.6L13.6,75.6L14.1,79.4L17.1,80.6L20.9,80.1L24.6,77.6L29.4,75.9L30.4,75.1L32.6,71.6L35.1,70.1L37.1,70.4L42.6,73.6L47.9,75.1L52.9,78.4L55.6,78.4L58.1,76.4L58.6,75.4L58.6,73.4L54.4,70.1L53.1,68.6L52.1,66.4L50.6,58.9L50.9,53.4L52.1,50.4L54.4,47.6L58.4,45.4L65.4,45.1L67.4,44.1L72.6,38.6L74.4,38.6L74.9,39.1L75.1,41.4L75.9,43.1L77.6,44.6L79.1,45.1L81.6,44.9L85.4,42.4L88.6,41.4L96.6,42.4L99.9,42.4L102.9,41.6L113.6,35.4L119.4,29.4L124.6,27.4L134.6,25.1L138.6,23.1L142.1,20.4L143.9,18.4L145.9,14.9L148.1,5.9L150.9,0.1L58.1,0.1L56.1,6.1L53.9,8.6L52.6,9.1L50.4,9.1L48.6,7.9L47.4,5.1L46.4,0.1L0.1,0.1L0.1,10.9L5.1,12.9L7.4,14.4L7.6,23.4L8.6,25.1L12.4,28.9L11.9,30.4L4.1,37.1L1.9,43.1L0.1,44.6L0.1,55.6L2.1,57.1L2.9,58.9L3.4,64.9ZM36.4,12.1L38.4,14.4L38.1,17.1L36.4,20.1L34.1,22.4L32.4,23.4L29.6,23.6L28.1,22.9L26.6,20.6L26.1,18.4L26.1,16.6L27.1,14.1L28.4,12.9L31.4,11.6L35.1,11.6Z"/>
<path fill="#FFD21E" fill-rule="evenodd" d="M0.1,106.4L0.1,115.9L32.9,115.9L32.6,111.9L30.6,109.6L21.9,105.9L16.4,105.6L11.1,106.4ZM74.4,80.6L74.4,82.1L76.1,85.1L79.4,88.6L92.4,95.4L100.4,98.4L103.6,98.6L105.4,98.1L108.1,98.1L109.6,98.6L115.9,103.6L126.6,108.9L130.1,109.9L143.6,109.4L152.4,112.1L155.4,111.9L161.4,109.9L164.1,109.9L169.6,110.9L180.1,113.9L190.6,113.4L202.9,113.9L206.1,113.1L210.9,110.9L213.9,110.9L216.6,111.9L219.9,111.9L224.1,111.1L226.9,110.1L228.4,108.6L227.9,106.1L225.9,104.1L217.4,99.6L213.6,98.1L205.6,96.6L200.1,94.4L196.1,93.4L189.1,92.9L183.4,91.9L174.1,92.4L166.6,90.6L158.6,90.1L148.6,87.4L121.6,84.9L110.9,82.9L108.9,82.1L106.1,79.9L102.6,78.6L93.9,78.9L89.4,77.6L85.9,77.4L76.4,79.4ZM201.1,29.1L202.6,31.1L204.4,31.9L208.4,31.9L210.4,31.1L211.9,29.6L213.9,24.9L216.1,22.4L219.4,20.6L224.1,16.4L226.4,15.4L231.9,14.4L231.9,5.6L227.1,5.1L211.1,5.4L205.9,4.6L203.6,4.9L202.1,5.6L201.1,6.6L200.4,8.9L201.1,15.4L200.6,24.6ZM0.1,54.1L1.9,54.9L3.4,56.6L5.1,66.1L6.6,68.1L8.4,69.1L13.6,70.6L16.4,70.6L21.6,68.1L23.6,68.1L26.9,69.6L28.4,69.6L33.1,67.1L35.4,66.9L37.6,67.6L42.9,70.9L46.9,71.1L47.9,70.6L49.1,68.9L49.4,64.6L48.6,61.4L46.1,55.9L46.1,54.1L47.1,52.1L54.9,44.9L58.4,43.1L62.9,42.4L64.4,41.6L68.4,36.1L71.4,34.9L76.6,33.6L80.1,33.6L81.6,34.4L84.6,37.6L85.6,38.1L93.4,38.4L98.6,39.1L101.6,38.6L110.1,33.6L115.1,29.4L118.4,27.6L131.4,24.6L134.9,23.4L138.9,20.9L143.1,16.1L144.4,13.4L145.9,6.9L148.4,0.1L60.9,0.1L59.4,4.9L57.1,8.9L54.9,10.9L51.6,11.9L49.1,11.6L46.1,9.4L43.6,3.6L40.4,0.1L10.9,0.1L9.1,2.1L4.4,4.4L3.6,5.6L3.6,7.1L5.6,9.4L10.6,11.4L11.9,12.6L12.1,14.9L10.6,18.6L10.4,21.9L11.6,24.1L15.9,27.6L16.4,29.6L14.1,32.4L10.4,35.1L5.6,39.6L2.9,44.9L0.1,46.6ZM71.6,19.4L73.4,19.9L74.6,21.9L74.4,23.1L72.4,24.6L70.9,24.4L69.4,22.9L69.6,20.6ZM37.9,9.6L40.9,12.1L41.6,13.6L41.4,16.1L39.4,19.9L36.1,23.6L33.1,25.4L29.9,25.9L26.9,24.6L24.9,21.6L23.9,17.6L23.6,13.6L24.4,11.9L25.6,10.6L27.6,9.6L30.6,8.9L34.1,8.6Z"/>
<path fill="#FFAA00" fill-rule="evenodd" d="M0.1,111.6L0.1,115.9L10.9,115.9L10.1,113.4L8.9,112.1L5.9,111.4ZM111.4,89.1L112.1,92.9L116.4,98.9L118.6,101.1L129.6,106.9L132.6,107.6L144.4,107.1L150.4,109.6L153.6,109.9L156.6,108.6L160.6,105.1L163.4,104.6L175.6,109.4L181.1,110.9L189.6,110.1L201.9,110.9L203.9,110.4L208.4,107.4L213.4,105.6L215.4,104.1L215.1,102.4L212.6,100.4L208.6,99.4L203.1,99.1L195.4,95.4L185.1,93.6L179.6,93.4L175.1,94.4L172.4,94.4L165.9,92.6L154.9,92.6L148.9,89.9L146.1,89.1L117.9,85.6L115.4,85.6L113.1,86.4L111.9,87.6ZM79.9,81.9L79.9,84.4L81.6,86.4L93.1,91.6L95.1,91.6L96.9,90.4L98.1,85.9L99.4,83.6L99.1,82.4L95.1,81.6L90.6,79.6L87.6,78.9L82.9,79.6ZM39.9,61.4L38.6,63.4L39.1,65.1L42.6,67.9L43.9,68.1L45.4,67.6L46.4,66.1L46.4,64.1L45.4,62.1L42.9,60.6L41.4,60.6ZM202.4,29.1L203.6,30.4L204.9,30.9L208.1,30.9L209.9,30.1L210.9,29.1L212.1,25.9L212.4,17.1L213.9,15.6L216.1,14.6L231.9,11.6L231.9,7.4L225.4,6.4L210.4,6.6L207.4,5.9L204.4,5.9L203.1,6.4L201.6,8.4L201.6,12.1L202.6,15.9L202.6,20.1L201.9,23.4L201.9,27.9ZM146.1,0.1L63.6,0.1L59.4,9.9L56.9,12.9L53.4,14.4L46.6,15.1L43.9,17.6L39.6,24.4L38.4,25.6L36.1,26.9L32.6,27.9L28.6,27.9L25.1,26.4L23.6,24.4L21.4,17.4L19.4,15.6L16.6,15.6L14.6,16.9L13.6,18.1L12.9,19.9L12.9,21.4L14.4,23.6L17.1,25.4L19.1,27.4L19.6,28.4L19.4,30.4L17.9,32.4L13.9,35.1L6.6,41.9L4.9,45.9L3.1,47.6L1.4,48.4L0.1,48.4L0.1,52.4L2.4,52.9L4.4,54.9L5.1,57.9L5.6,63.4L6.6,65.6L7.9,66.9L11.4,68.1L14.4,68.1L15.9,67.6L23.9,60.1L25.9,55.6L26.9,54.6L28.6,53.9L35.6,54.1L38.1,53.1L39.6,51.4L41.1,48.1L42.6,46.6L44.4,46.1L48.4,46.1L52.1,44.4L59.6,38.9L62.4,34.9L65.1,32.9L72.4,32.1L78.1,30.6L82.9,30.9L88.4,33.6L90.4,33.4L93.9,31.9L103.4,32.4L108.1,31.1L116.1,26.6L130.6,23.4L133.9,22.1L137.6,19.6L141.1,15.6L142.9,11.4L144.1,5.9ZM70.1,17.6L72.4,17.4L73.9,17.9L75.4,19.1L76.4,20.9L76.4,24.4L74.6,26.4L73.6,26.9L69.9,26.9L68.4,26.1L66.9,24.1L66.9,20.6L68.6,18.4Z"/>
<path fill="#FF8000" fill-rule="evenodd" d="M182.1,96.6L182.1,97.4L184.6,100.9L185.1,104.1L186.1,105.9L187.4,106.4L191.9,106.4L195.9,104.9L195.9,101.9L194.6,99.4L193.4,98.4L188.4,96.9L184.4,96.4ZM116.9,89.6L117.6,92.4L121.9,97.6L124.4,99.1L129.4,100.6L133.9,103.6L135.6,104.1L144.6,103.9L151.6,107.1L153.6,106.6L155.4,104.4L155.9,102.1L155.4,99.4L153.6,97.9L150.4,96.1L147.1,92.9L144.6,91.6L134.9,90.6L123.9,88.1L119.1,88.1L117.6,88.6ZM8.1,53.9L6.9,55.1L6.4,57.4L6.4,59.9L7.1,63.4L7.9,64.6L9.4,65.6L13.1,65.9L14.6,65.1L16.1,63.4L17.6,59.9L17.6,57.4L16.4,55.6L13.9,54.1L12.1,53.6ZM41.4,33.6L40.6,35.4L41.1,38.6L43.4,40.9L46.1,41.9L49.6,41.9L51.6,40.9L53.4,39.1L54.6,36.4L53.9,33.9L50.9,32.4L44.9,32.1L42.9,32.6ZM31.1,31.4L28.1,30.6L24.4,30.9L16.4,37.1L15.9,39.4L19.1,44.6L20.9,46.4L22.1,46.9L24.9,46.9L27.9,45.1L30.9,39.9L32.4,34.6L32.4,32.9ZM61.1,16.1L61.6,17.9L62.6,18.9L63.4,18.9L66.6,16.6L69.1,15.6L71.9,15.4L74.4,16.1L77.4,18.9L78.6,21.6L79.1,25.1L80.9,26.6L83.1,26.4L86.1,25.1L87.9,25.1L90.4,26.4L93.6,27.1L100.9,26.4L107.9,27.1L114.9,25.1L129.4,22.1L132.4,20.9L135.4,18.9L138.4,15.9L139.9,13.1L141.1,7.6L143.6,0.1L97.9,0.1L96.9,1.1L93.4,2.4L84.6,2.4L77.9,5.4L74.1,5.1L69.4,2.6L67.4,2.4L64.9,4.4L63.1,7.6L61.4,13.4Z"/>
<path fill="#FF4A00" fill-rule="evenodd" d="M140.4,0.1L116.1,0.1L114.6,1.9L110.9,3.6L101.6,3.6L98.1,4.9L94.9,5.4L87.9,5.1L84.9,6.1L80.9,9.4L78.9,10.4L74.1,11.4L73.9,12.1L77.4,15.4L81.1,20.1L82.6,20.4L86.1,18.4L87.4,18.1L88.6,18.6L90.6,21.4L92.4,23.1L93.9,23.9L96.9,23.9L101.4,21.6L108.9,21.6L113.1,23.1L119.4,22.6L128.4,20.1L131.4,18.4L134.9,15.4L136.6,12.6L137.6,6.9Z"/>
</g>
<path d="M101.3,1.4h0.01M106.8,1.4h0.01M112.4,1.4h0.01M117.9,1.4h0.01M123.5,1.4h0.01M129.0,1.4h0.01M134.6,1.4h0.01M140.1,1.4h0.01M87.4,4.2h0.01M93.0,4.2h0.01M98.5,4.2h0.01M104.1,4.2h0.01M109.6,4.2h0.01M115.2,4.2h0.01M120.7,4.2h0.01M126.3,4.2h0.01M131.8,4.2h0.01M137.4,4.2h0.01M181.8,4.2h0.01M187.3,4.2h0.01M192.9,4.2h0.01M68.0,7.0h0.01M84.6,7.0h0.01M90.2,7.0h0.01M95.7,7.0h0.01M101.3,7.0h0.01M106.8,7.0h0.01M112.4,7.0h0.01M117.9,7.0h0.01M123.5,7.0h0.01M129.0,7.0h0.01M134.6,7.0h0.01M140.1,7.0h0.01M167.9,7.0h0.01M173.5,7.0h0.01M179.0,7.0h0.01M184.6,7.0h0.01M190.1,7.0h0.01M65.2,9.8h0.01M70.8,9.8h0.01M76.3,9.8h0.01M81.9,9.8h0.01M87.4,9.8h0.01M93.0,9.8h0.01M98.5,9.8h0.01M104.1,9.8h0.01M109.6,9.8h0.01M115.2,9.8h0.01M120.7,9.8h0.01M126.3,9.8h0.01M131.8,9.8h0.01M137.4,9.8h0.01M165.1,9.8h0.01M170.7,9.8h0.01M176.2,9.8h0.01M181.8,9.8h0.01M187.3,9.8h0.01M192.9,9.8h0.01M68.0,12.6h0.01M73.5,12.6h0.01M79.1,12.6h0.01M84.6,12.6h0.01M90.2,12.6h0.01M95.7,12.6h0.01M101.3,12.6h0.01M106.8,12.6h0.01M112.4,12.6h0.01M117.9,12.6h0.01M123.5,12.6h0.01M129.0,12.6h0.01M134.6,12.6h0.01M162.4,12.6h0.01M167.9,12.6h0.01M179.0,12.6h0.01M184.6,12.6h0.01M190.1,12.6h0.01M195.7,12.6h0.01M206.8,12.6h0.01M76.3,15.4h0.01M81.9,15.4h0.01M87.4,15.4h0.01M93.0,15.4h0.01M98.5,15.4h0.01M104.1,15.4h0.01M109.6,15.4h0.01M115.2,15.4h0.01M120.7,15.4h0.01M126.3,15.4h0.01M131.8,15.4h0.01M137.4,15.4h0.01M159.6,15.4h0.01M165.1,15.4h0.01M170.7,15.4h0.01M176.2,15.4h0.01M181.8,15.4h0.01M187.3,15.4h0.01M192.9,15.4h0.01M79.1,18.2h0.01M84.6,18.2h0.01M90.2,18.2h0.01M95.7,18.2h0.01M101.3,18.2h0.01M106.8,18.2h0.01M112.4,18.2h0.01M117.9,18.2h0.01M123.5,18.2h0.01M129.0,18.2h0.01M134.6,18.2h0.01M156.8,18.2h0.01M162.4,18.2h0.01M167.9,18.2h0.01M173.5,18.2h0.01M179.0,18.2h0.01M184.6,18.2h0.01M190.1,18.2h0.01M81.9,21.0h0.01M87.4,21.0h0.01M93.0,21.0h0.01M98.5,21.0h0.01M104.1,21.0h0.01M109.6,21.0h0.01M115.2,21.0h0.01M120.7,21.0h0.01M126.3,21.0h0.01M159.6,21.0h0.01M165.1,21.0h0.01M170.7,21.0h0.01M176.2,21.0h0.01M181.8,21.0h0.01M187.3,21.0h0.01M192.9,21.0h0.01M90.2,23.8h0.01M95.7,23.8h0.01M101.3,23.8h0.01M106.8,23.8h0.01M112.4,23.8h0.01M117.9,23.8h0.01M156.8,23.8h0.01M162.4,23.8h0.01M167.9,23.8h0.01M190.1,23.8h0.01M195.7,23.8h0.01M206.8,23.8h0.01M148.5,26.6h0.01M154.0,26.6h0.01M159.6,26.6h0.01M165.1,26.6h0.01M192.9,26.6h0.01M209.5,26.6h0.01M145.7,29.4h0.01M151.2,29.4h0.01M156.8,29.4h0.01M162.4,29.4h0.01M223.4,29.4h0.01M229.0,29.4h0.01M142.9,32.2h0.01M148.5,32.2h0.01M154.0,32.2h0.01M159.6,32.2h0.01M220.6,32.2h0.01M226.2,32.2h0.01M231.7,32.2h0.01M23.6,35.0h0.01M29.2,35.0h0.01M45.8,35.0h0.01M140.1,35.0h0.01M145.7,35.0h0.01M151.2,35.0h0.01M156.8,35.0h0.01M162.4,35.0h0.01M167.9,35.0h0.01M173.5,35.0h0.01M179.0,35.0h0.01M184.6,35.0h0.01M217.9,35.0h0.01M223.4,35.0h0.01M229.0,35.0h0.01M20.8,37.8h0.01M26.4,37.8h0.01M48.6,37.8h0.01M137.4,37.8h0.01M142.9,37.8h0.01M148.5,37.8h0.01M154.0,37.8h0.01M159.6,37.8h0.01M165.1,37.8h0.01M170.7,37.8h0.01M176.2,37.8h0.01M181.8,37.8h0.01M187.3,37.8h0.01M209.5,37.8h0.01M215.1,37.8h0.01M220.6,37.8h0.01M226.2,37.8h0.01M231.7,37.8h0.01M23.6,40.6h0.01M134.6,40.6h0.01M140.1,40.6h0.01M145.7,40.6h0.01M151.2,40.6h0.01M156.8,40.6h0.01M162.4,40.6h0.01M167.9,40.6h0.01M173.5,40.6h0.01M179.0,40.6h0.01M184.6,40.6h0.01M190.1,40.6h0.01M206.8,40.6h0.01M212.3,40.6h0.01M217.9,40.6h0.01M223.4,40.6h0.01M229.0,40.6h0.01M20.8,43.4h0.01M120.7,43.4h0.01M126.3,43.4h0.01M131.8,43.4h0.01M137.4,43.4h0.01M142.9,43.4h0.01M148.5,43.4h0.01M154.0,43.4h0.01M159.6,43.4h0.01M165.1,43.4h0.01M170.7,43.4h0.01M176.2,43.4h0.01M181.8,43.4h0.01M187.3,43.4h0.01M192.9,43.4h0.01M198.4,43.4h0.01M204.0,43.4h0.01M209.5,43.4h0.01M215.1,43.4h0.01M220.6,43.4h0.01M226.2,43.4h0.01M231.7,43.4h0.01M117.9,46.2h0.01M123.5,46.2h0.01M129.0,46.2h0.01M134.6,46.2h0.01M140.1,46.2h0.01M145.7,46.2h0.01M151.2,46.2h0.01M156.8,46.2h0.01M162.4,46.2h0.01M167.9,46.2h0.01M173.5,46.2h0.01M179.0,46.2h0.01M184.6,46.2h0.01M190.1,46.2h0.01M195.7,46.2h0.01M201.2,46.2h0.01M206.8,46.2h0.01M212.3,46.2h0.01M217.9,46.2h0.01M223.4,46.2h0.01M229.0,46.2h0.01M115.2,49.0h0.01M120.7,49.0h0.01M126.3,49.0h0.01M131.8,49.0h0.01M137.4,49.0h0.01M142.9,49.0h0.01M148.5,49.0h0.01M154.0,49.0h0.01M159.6,49.0h0.01M165.1,49.0h0.01M170.7,49.0h0.01M176.2,49.0h0.01M181.8,49.0h0.01M187.3,49.0h0.01M192.9,49.0h0.01M198.4,49.0h0.01M204.0,49.0h0.01M209.5,49.0h0.01M215.1,49.0h0.01M220.6,49.0h0.01M226.2,49.0h0.01M231.7,49.0h0.01M95.7,51.8h0.01M101.3,51.8h0.01M106.8,51.8h0.01M112.4,51.8h0.01M117.9,51.8h0.01M123.5,51.8h0.01M129.0,51.8h0.01M134.6,51.8h0.01M140.1,51.8h0.01M145.7,51.8h0.01M151.2,51.8h0.01M156.8,51.8h0.01M162.4,51.8h0.01M167.9,51.8h0.01M173.5,51.8h0.01M179.0,51.8h0.01M184.6,51.8h0.01M190.1,51.8h0.01M195.7,51.8h0.01M201.2,51.8h0.01M206.8,51.8h0.01M212.3,51.8h0.01M217.9,51.8h0.01M223.4,51.8h0.01M229.0,51.8h0.01M76.3,54.6h0.01M81.9,54.6h0.01M93.0,54.6h0.01M98.5,54.6h0.01M104.1,54.6h0.01M109.6,54.6h0.01M115.2,54.6h0.01M120.7,54.6h0.01M126.3,54.6h0.01M131.8,54.6h0.01M137.4,54.6h0.01M142.9,54.6h0.01M148.5,54.6h0.01M154.0,54.6h0.01M159.6,54.6h0.01M165.1,54.6h0.01M170.7,54.6h0.01M176.2,54.6h0.01M181.8,54.6h0.01M187.3,54.6h0.01M192.9,54.6h0.01M198.4,54.6h0.01M204.0,54.6h0.01M209.5,54.6h0.01M12.5,57.4h0.01M73.5,57.4h0.01M79.1,57.4h0.01M84.6,57.4h0.01M90.2,57.4h0.01M95.7,57.4h0.01M101.3,57.4h0.01M106.8,57.4h0.01M112.4,57.4h0.01M117.9,57.4h0.01M123.5,57.4h0.01M129.0,57.4h0.01M134.6,57.4h0.01M140.1,57.4h0.01M145.7,57.4h0.01M151.2,57.4h0.01M156.8,57.4h0.01M162.4,57.4h0.01M167.9,57.4h0.01M173.5,57.4h0.01M179.0,57.4h0.01M184.6,57.4h0.01M190.1,57.4h0.01M195.7,57.4h0.01M201.2,57.4h0.01M206.8,57.4h0.01M9.7,60.2h0.01M15.3,60.2h0.01M65.2,60.2h0.01M70.8,60.2h0.01M76.3,60.2h0.01M81.9,60.2h0.01M87.4,60.2h0.01M93.0,60.2h0.01M98.5,60.2h0.01M104.1,60.2h0.01M109.6,60.2h0.01M115.2,60.2h0.01M120.7,60.2h0.01M126.3,60.2h0.01M131.8,60.2h0.01M137.4,60.2h0.01M142.9,60.2h0.01M148.5,60.2h0.01M154.0,60.2h0.01M159.6,60.2h0.01M165.1,60.2h0.01M170.7,60.2h0.01M176.2,60.2h0.01M181.8,60.2h0.01M187.3,60.2h0.01M192.9,60.2h0.01M198.4,60.2h0.01M204.0,60.2h0.01M12.5,63.0h0.01M62.4,63.0h0.01M68.0,63.0h0.01M73.5,63.0h0.01M79.1,63.0h0.01M84.6,63.0h0.01M90.2,63.0h0.01M95.7,63.0h0.01M101.3,63.0h0.01M106.8,63.0h0.01M112.4,63.0h0.01M117.9,63.0h0.01M123.5,63.0h0.01M129.0,63.0h0.01M134.6,63.0h0.01M140.1,63.0h0.01M145.7,63.0h0.01M151.2,63.0h0.01M156.8,63.0h0.01M162.4,63.0h0.01M167.9,63.0h0.01M173.5,63.0h0.01M179.0,63.0h0.01M184.6,63.0h0.01M190.1,63.0h0.01M195.7,63.0h0.01M201.2,63.0h0.01M70.8,65.8h0.01M76.3,65.8h0.01M81.9,65.8h0.01M87.4,65.8h0.01M93.0,65.8h0.01M98.5,65.8h0.01M104.1,65.8h0.01M109.6,65.8h0.01M115.2,65.8h0.01M120.7,65.8h0.01M126.3,65.8h0.01M131.8,65.8h0.01M137.4,65.8h0.01M142.9,65.8h0.01M148.5,65.8h0.01M154.0,65.8h0.01M159.6,65.8h0.01M165.1,65.8h0.01M170.7,65.8h0.01M176.2,65.8h0.01M181.8,65.8h0.01M187.3,65.8h0.01M192.9,65.8h0.01M198.4,65.8h0.01M73.5,68.6h0.01M79.1,68.6h0.01M84.6,68.6h0.01M90.2,68.6h0.01M95.7,68.6h0.01M101.3,68.6h0.01M106.8,68.6h0.01M112.4,68.6h0.01M117.9,68.6h0.01M123.5,68.6h0.01M129.0,68.6h0.01M134.6,68.6h0.01M140.1,68.6h0.01M145.7,68.6h0.01M151.2,68.6h0.01M156.8,68.6h0.01M162.4,68.6h0.01M167.9,68.6h0.01M173.5,68.6h0.01M179.0,68.6h0.01M184.6,68.6h0.01M190.1,68.6h0.01M115.2,71.4h0.01M120.7,71.4h0.01M126.3,71.4h0.01M131.8,71.4h0.01M137.4,71.4h0.01M142.9,71.4h0.01M148.5,71.4h0.01M154.0,71.4h0.01M159.6,71.4h0.01M165.1,71.4h0.01M170.7,71.4h0.01M176.2,71.4h0.01M181.8,71.4h0.01M187.3,71.4h0.01M123.5,74.2h0.01M129.0,74.2h0.01M134.6,74.2h0.01M140.1,74.2h0.01M145.7,74.2h0.01M151.2,74.2h0.01M156.8,74.2h0.01M162.4,74.2h0.01M167.9,74.2h0.01M173.5,74.2h0.01M179.0,74.2h0.01M184.6,74.2h0.01M190.1,74.2h0.01M120.7,77.0h0.01M126.3,77.0h0.01M131.8,77.0h0.01M137.4,77.0h0.01M142.9,77.0h0.01M148.5,77.0h0.01M154.0,77.0h0.01M159.6,77.0h0.01M165.1,77.0h0.01M170.7,77.0h0.01M176.2,77.0h0.01M181.8,77.0h0.01M187.3,77.0h0.01M134.6,79.8h0.01M140.1,79.8h0.01M145.7,79.8h0.01M151.2,79.8h0.01M156.8,79.8h0.01M162.4,79.8h0.01M167.9,79.8h0.01M173.5,79.8h0.01M179.0,79.8h0.01M184.6,79.8h0.01M190.1,79.8h0.01M176.2,82.6h0.01M181.8,82.6h0.01M187.3,82.6h0.01M123.5,91.0h0.01M129.0,91.0h0.01M48.6,93.8h0.01M54.1,93.8h0.01M126.3,93.8h0.01M131.8,93.8h0.01M137.4,93.8h0.01M142.9,93.8h0.01M45.8,96.6h0.01M51.3,96.6h0.01M129.0,96.6h0.01M134.6,96.6h0.01M140.1,96.6h0.01M145.7,96.6h0.01M48.6,99.4h0.01M137.4,99.4h0.01M142.9,99.4h0.01M148.5,99.4h0.01M140.1,102.2h0.01M145.7,102.2h0.01M151.2,102.2h0.01M190.1,102.2h0.01" stroke="#000" stroke-width="1.9" stroke-linecap="round"/>
<path d="M0.0,87.0L2.2,85.0L3.2,83.4L5.1,82.2L6.4,80.5L8.4,78.9L10.2,78.1L11.9,79.7L13.8,79.9L14.7,77.1L16.0,75.8L18.3,74.8L20.2,75.4L22.5,75.7L24.4,75.8L23.2,77.4L22.5,79.9L25.7,81.8L28.0,83.4L30.2,83.5L31.4,80.6L31.4,76.8L32.7,73.6L34.0,76.1L34.3,78.9L36.8,79.9L37.8,83.5L38.2,85.7L41.9,87.7L43.9,90.6L46.1,93.0L48.1,95.3L48.8,99.6L48.0,103.1L46.9,105.6L45.0,107.9L43.7,111.1L43.4,112.6L40.7,113.1L38.2,114.7L36.0,113.9L34.1,114.5L30.5,113.4L28.6,112.1L28.2,110.1L26.3,109.8L26.9,108.2L25.6,109.1L24.6,108.8L26.0,106.3L25.0,107.0L23.1,108.6L22.1,108.2L20.5,105.9L16.3,103.9L13.1,104.1L8.9,105.0L5.8,106.2L5.1,107.3L0.0,107.5ZM16.0,60.0L18.0,58.7L20.6,59.4L21.7,62.7L25.4,60.3L30.4,61.9L35.6,63.6L37.5,65.2L40.1,66.8L39.5,68.4L41.0,69.7L42.6,72.3L44.6,73.5L40.7,72.9L37.9,69.9L35.2,69.3L33.7,71.0L30.5,71.3L27.6,69.9L26.2,70.3L25.9,65.9L22.1,64.5L19.5,63.9L18.6,62.0L16.4,60.4ZM168.3,0.0L169.4,1.5L170.5,3.2L173.2,5.1L175.8,8.0L178.2,9.9L180.5,11.9L182.9,13.5L185.4,16.7L187.9,19.8L190.1,21.8L192.1,23.4L193.8,24.8L195.7,27.5L197.0,29.8L200.2,31.1L204.7,33.0L209.2,34.9L213.8,35.7L217.4,37.0L221.0,39.4L224.7,42.1L227.3,44.3L230.0,45.8L232.5,46.3L232.5,43.9L227.3,42.1L224.7,37.0L222.3,35.3L221.0,33.0L221.9,28.0L218.3,27.5L217.4,30.2L214.6,30.9L209.2,30.2L207.5,27.5L206.8,21.2L209.2,15.7L212.9,13.9L218.3,14.4L222.8,13.5L227.3,14.8L229.0,17.1L230.3,20.3L231.3,21.5L232.5,20.0L232.5,0.0ZM225.4,26.3L228.9,24.5L231.8,24.4L232.5,24.8L232.5,26.7L229.6,26.9L227.7,26.4ZM232.5,56.4L231.8,58.1L231.2,60.3L232.1,61.7L232.5,62.5L232.5,63.0L231.3,64.2L230.6,65.4L231.3,66.8L232.5,68.0Z" fill="#CCCCCC" stroke="#222" stroke-width="0.7" stroke-linejoin="round"/>
<path d="M0.0,0.0L12.1,0.0L12.5,2.5L13.7,4.2L13.8,5.8L13.5,7.0L10.9,7.8L9.2,8.1L9.4,5.8L9.6,3.6L7.7,3.2L7.4,2.0L6.4,0.3L4.4,0.6L1.9,1.7L2.8,0.3L2.2,0.0L1.3,0.0L0.0,0.3ZM0.0,4.1L1.2,3.2L3.8,3.8L2.2,4.8L0.6,5.8L-0.6,7.1L0.3,8.0L1.3,10.7L2.8,12.1L2.8,13.2L2.6,14.5L2.3,16.6L0.9,18.0L0.0,19.2ZM0.1,24.7L1.2,26.3L2.3,22.8L2.8,21.6L1.5,21.6L0.3,23.7ZM13.9,9.7L14.5,12.5L16.4,12.6L17.3,10.0L16.0,8.9L14.2,9.2ZM18.2,9.7L20.6,8.4L21.4,9.3L18.9,10.5ZM15.8,8.7L18.2,8.3L21.9,7.8L22.4,9.4L24.6,8.3L27.3,7.8L28.9,7.1L30.4,5.1L30.5,2.5L31.8,1.3L31.8,0.0L29.1,0.0L28.9,1.5L27.6,3.1L25.1,4.6L24.4,4.1L23.1,6.1L20.3,6.5L17.9,6.8L15.8,8.1ZM0.0,31.2L0.9,31.1L3.2,31.2L2.9,33.4L2.3,35.0L2.9,37.8L5.8,39.2L4.7,38.1L2.5,37.9L0.9,37.2L0.0,36.3L-0.3,34.4L0.4,34.0ZM0.4,38.5L2.2,38.9L1.7,40.4L0.6,39.8ZM6.1,39.9L8.0,40.4L8.6,42.1L7.3,43.6L6.4,42.3ZM2.9,40.8L4.5,41.4L3.9,42.7L2.8,42.7ZM3.6,42.4L4.9,42.3L4.7,44.6L3.6,44.3ZM2.9,47.9L5.1,46.6L7.3,45.0L9.0,44.6L9.4,47.9L7.8,50.0L6.1,49.1L5.7,47.6L3.1,48.1ZM-1.5,50.5L-1.0,50.4L-1.5,51.7ZM-0.7,66.1L-0.9,63.2L-1.7,62.2L-0.7,58.1L0.7,56.8L4.4,56.6L7.3,55.9L6.5,57.5L1.5,57.4L1.2,59.6L4.7,59.4L2.6,60.7L1.9,61.6L3.3,63.2L3.8,65.2L2.3,64.9L1.5,62.0L0.4,62.3L0.7,66.1ZM11.2,55.5L12.4,56.6L12.6,58.1L11.9,59.3L10.9,57.4ZM11.6,62.5L15.7,62.7L15.4,63.8L11.9,63.3ZM8.7,62.7L10.5,62.9L9.2,63.6ZM5.8,71.6L10.6,70.2L7.3,72.0L5.1,73.1ZM-0.3,70.9L4.4,70.0L4.1,70.7L0.0,71.0ZM-1.5,71.9L1.2,72.8L-0.7,72.5ZM41.1,66.1L44.3,65.7L46.8,64.2L45.8,66.1L41.3,67.0ZM44.8,61.9L47.2,63.9L48.1,64.9L46.5,62.7ZM50.3,65.8L52.2,68.0L51.1,68.1L50.4,66.8ZM57.5,71.6L59.3,72.3L59.0,72.6L57.7,72.0ZM59.0,70.2L60.3,72.0L59.6,71.6ZM55.5,69.3L58.0,70.4L57.4,70.6L55.7,69.7ZM67.6,79.3L68.6,80.8L67.9,80.9ZM69.5,81.6L70.3,83.8L69.8,83.7ZM63.9,87.4L68.4,90.5L67.9,90.6L63.8,88.0ZM83.3,83.4L85.0,83.7L84.7,84.5L83.4,84.4ZM85.4,81.6L87.2,81.9L85.9,82.5ZM76.6,108.1L79.2,110.7L81.2,112.6L85.0,112.9L84.1,115.0L82.7,115.5L82.1,116.3L79.2,116.3L79.3,115.6L78.2,115.0L79.8,113.3L78.8,111.3L77.5,109.5ZM122.2,29.3L122.9,30.6L123.7,29.6L123.2,28.8ZM121.2,27.7L121.8,28.2L122.1,27.9L121.5,27.6ZM118.9,26.7L119.6,27.3L119.7,26.9L119.2,26.6ZM116.7,26.0L117.1,26.3L117.3,25.9ZM179.9,11.3L183.4,15.1L186.7,18.6L189.8,22.4L190.2,22.1L187.2,18.2L183.8,14.7L180.3,11.0Z" fill="#E8E8E8" stroke="#222" stroke-width="0.8" stroke-linejoin="round"/>
</g>
<rect x="101.72" y="43.58" width="72.66" height="29.05" fill="none" stroke="#000" stroke-width="1.5" stroke-dasharray="8 4"/>
<rect x="0" y="0" width="232.5" height="116.2" fill="none" stroke="#000" stroke-width="1.5"/>
<line x1="0.00" y1="116.20" x2="0.00" y2="120.70" stroke="#000" stroke-width="1.3" />
<line x1="14.53" y1="116.20" x2="14.53" y2="118.70" stroke="#000" stroke-width="1.0" />
<line x1="29.06" y1="116.20" x2="29.06" y2="118.70" stroke="#000" stroke-width="1.0" />
<line x1="43.59" y1="116.20" x2="43.59" y2="120.70" stroke="#000" stroke-width="1.3" />
<line x1="58.12" y1="116.20" x2="58.12" y2="118.70" stroke="#000" stroke-width="1.0" />
<line x1="72.66" y1="116.20" x2="72.66" y2="118.70" stroke="#000" stroke-width="1.0" />
<line x1="87.19" y1="116.20" x2="87.19" y2="120.70" stroke="#000" stroke-width="1.3" />
<line x1="101.72" y1="116.20" x2="101.72" y2="118.70" stroke="#000" stroke-width="1.0" />
<line x1="116.25" y1="116.20" x2="116.25" y2="118.70" stroke="#000" stroke-width="1.0" />
<line x1="130.78" y1="116.20" x2="130.78" y2="120.70" stroke="#000" stroke-width="1.3" />
<line x1="145.31" y1="116.20" x2="145.31" y2="118.70" stroke="#000" stroke-width="1.0" />
<line x1="159.84" y1="116.20" x2="159.84" y2="118.70" stroke="#000" stroke-width="1.0" />
<line x1="174.38" y1="116.20" x2="174.38" y2="120.70" stroke="#000" stroke-width="1.3" />
<line x1="188.91" y1="116.20" x2="188.91" y2="118.70" stroke="#000" stroke-width="1.0" />
<line x1="203.44" y1="116.20" x2="203.44" y2="118.70" stroke="#000" stroke-width="1.0" />
<line x1="217.97" y1="116.20" x2="217.97" y2="120.70" stroke="#000" stroke-width="1.3" />
<line x1="232.50" y1="116.20" x2="232.50" y2="118.70" stroke="#000" stroke-width="1.0" />
</g>
<text x="290.0" y="404.4" font-size="13.6" text-anchor="middle" fill="#000" stroke="#000" >120E</text>
<text x="333.59375" y="404.4" font-size="13.6" text-anchor="middle" fill="#000" stroke="#000" >150E</text>
<text x="377.1875" y="404.4" font-size="13.6" text-anchor="middle" fill="#000" stroke="#000" >180</text>
<text x="420.78125" y="404.4" font-size="13.6" text-anchor="middle" fill="#000" stroke="#000" >150W</text>
<text x="464.375" y="404.4" font-size="13.6" text-anchor="middle" fill="#000" stroke="#000" >120W</text>
<text x="507.96875" y="404.4" font-size="13.6" text-anchor="middle" fill="#000" stroke="#000" >90W</text>
<text x="288.7" y="257.7" font-size="15.5" text-anchor="start" fill="#000" stroke="#000" >(c) 1978-2018</text>
<text x="523.0" y="257.7" font-size="15.5" text-anchor="end" fill="#000" stroke="#000" >Correlation</text>
<rect x="532.8" y="266.40" width="13.8" height="11.19" fill="#FF4A00" stroke="#000" stroke-width="1.1"/>
<rect x="532.8" y="277.59" width="13.8" height="11.19" fill="#FF8000" stroke="#000" stroke-width="1.1"/>
<rect x="532.8" y="288.78" width="13.8" height="11.19" fill="#FFAA00" stroke="#000" stroke-width="1.1"/>
<rect x="532.8" y="299.97" width="13.8" height="11.19" fill="#FFD21E" stroke="#000" stroke-width="1.1"/>
<rect x="532.8" y="311.16" width="13.8" height="11.19" fill="#FFF080" stroke="#000" stroke-width="1.1"/>
<rect x="532.8" y="322.35" width="13.8" height="11.19" fill="#BEE4F5" stroke="#000" stroke-width="1.1"/>
<rect x="532.8" y="333.54" width="13.8" height="11.19" fill="#96D2F0" stroke="#000" stroke-width="1.1"/>
<rect x="532.8" y="344.73" width="13.8" height="11.19" fill="#14BEF0" stroke="#000" stroke-width="1.1"/>
<rect x="532.8" y="355.92" width="13.8" height="11.19" fill="#1E90F5" stroke="#000" stroke-width="1.1"/>
<rect x="532.8" y="367.11" width="13.8" height="11.19" fill="#3C6EE6" stroke="#000" stroke-width="1.1"/>
<text x="562.3" y="282.89" font-size="13.6" text-anchor="middle" fill="#000" stroke="#000" >0.4</text>
<text x="562.3" y="305.27" font-size="13.6" text-anchor="middle" fill="#000" stroke="#000" >0.2</text>
<text x="562.3" y="327.65" font-size="13.6" text-anchor="middle" fill="#000" stroke="#000" >0</text>
<text x="562.3" y="350.03" font-size="13.6" text-anchor="middle" fill="#000" stroke="#000" >-0.2</text>
<text x="562.3" y="372.40999999999997" font-size="13.6" text-anchor="middle" fill="#000" stroke="#000" >-0.4</text>
<circle cx="119.4" cy="492.9" r="2.5" fill="none" stroke="#000" stroke-width="1.35"/>
<circle cx="124.6" cy="505.3" r="2.5" fill="none" stroke="#000" stroke-width="1.35"/>
<circle cx="176.2" cy="498.7" r="2.5" fill="none" stroke="#000" stroke-width="1.35"/>
<circle cx="182.6" cy="507" r="2.5" fill="none" stroke="#000" stroke-width="1.35"/>
<circle cx="140.1" cy="517.6" r="2.5" fill="none" stroke="#000" stroke-width="1.35"/>
<circle cx="110" cy="531.1" r="2.5" fill="none" stroke="#000" stroke-width="1.35"/>
<circle cx="136.9" cy="531.6" r="2.5" fill="none" stroke="#000" stroke-width="1.35"/>
<circle cx="146.7" cy="528.8" r="2.5" fill="none" stroke="#000" stroke-width="1.35"/>
<circle cx="169.4" cy="528.5" r="2.5" fill="none" stroke="#000" stroke-width="1.35"/>
<circle cx="194.3" cy="529.9" r="2.5" fill="none" stroke="#000" stroke-width="1.35"/>
<circle cx="128.9" cy="540.8" r="2.5" fill="none" stroke="#000" stroke-width="1.35"/>
<circle cx="131.8" cy="542.6" r="2.5" fill="none" stroke="#000" stroke-width="1.35"/>
<circle cx="139.2" cy="541.4" r="2.5" fill="none" stroke="#000" stroke-width="1.35"/>
<circle cx="149.9" cy="540.3" r="2.5" fill="none" stroke="#000" stroke-width="1.35"/>
<circle cx="163" cy="538.2" r="2.5" fill="none" stroke="#000" stroke-width="1.35"/>
<circle cx="188.6" cy="541.7" r="2.5" fill="none" stroke="#000" stroke-width="1.35"/>
<circle cx="214.1" cy="542.6" r="2.5" fill="none" stroke="#000" stroke-width="1.35"/>
<circle cx="131.8" cy="552.9" r="2.5" fill="none" stroke="#000" stroke-width="1.35"/>
<circle cx="177.1" cy="554.9" r="2.5" fill="none" stroke="#000" stroke-width="1.35"/>
<circle cx="207.8" cy="550.9" r="2.5" fill="none" stroke="#000" stroke-width="1.35"/>
<circle cx="95.3" cy="565.2" r="2.5" fill="none" stroke="#000" stroke-width="1.35"/>
<circle cx="103.9" cy="565.5" r="2.5" fill="none" stroke="#000" stroke-width="1.35"/>
<circle cx="159.3" cy="561.2" r="2.5" fill="none" stroke="#000" stroke-width="1.35"/>
<circle cx="168.8" cy="564.6" r="2.5" fill="none" stroke="#000" stroke-width="1.35"/>
<circle cx="113.7" cy="573" r="2.5" fill="none" stroke="#000" stroke-width="1.35"/>
<circle cx="135.2" cy="574.1" r="2.5" fill="none" stroke="#000" stroke-width="1.35"/>
<circle cx="170.5" cy="572.4" r="2.5" fill="none" stroke="#000" stroke-width="1.35"/>
<circle cx="141.5" cy="595.6" r="2.5" fill="none" stroke="#000" stroke-width="1.35"/>
<rect x="85.0" y="432.0" width="165.80" height="166.20" fill="none" stroke="#000" stroke-width="1.6"/>
<line x1="80.00" y1="598.20" x2="85.00" y2="598.20" stroke="#000" stroke-width="1.3" />
<text x="70.0" y="603.0" font-size="13.8" text-anchor="end" fill="#000" stroke="#000" >-2.0</text>
<line x1="82.50" y1="592.66" x2="85.00" y2="592.66" stroke="#000" stroke-width="1.0" />
<line x1="82.50" y1="587.12" x2="85.00" y2="587.12" stroke="#000" stroke-width="1.0" />
<line x1="82.50" y1="581.58" x2="85.00" y2="581.58" stroke="#000" stroke-width="1.0" />
<line x1="82.50" y1="576.04" x2="85.00" y2="576.04" stroke="#000" stroke-width="1.0" />
<line x1="80.00" y1="570.50" x2="85.00" y2="570.50" stroke="#000" stroke-width="1.3" />
<text x="70.0" y="575.3" font-size="13.8" text-anchor="end" fill="#000" stroke="#000" >-1.0</text>
<line x1="82.50" y1="564.96" x2="85.00" y2="564.96" stroke="#000" stroke-width="1.0" />
<line x1="82.50" y1="559.42" x2="85.00" y2="559.42" stroke="#000" stroke-width="1.0" />
<line x1="82.50" y1="553.88" x2="85.00" y2="553.88" stroke="#000" stroke-width="1.0" />
<line x1="82.50" y1="548.34" x2="85.00" y2="548.34" stroke="#000" stroke-width="1.0" />
<line x1="80.00" y1="542.80" x2="85.00" y2="542.80" stroke="#000" stroke-width="1.3" />
<text x="70.0" y="547.6" font-size="13.8" text-anchor="end" fill="#000" stroke="#000" >0.0</text>
<line x1="82.50" y1="537.26" x2="85.00" y2="537.26" stroke="#000" stroke-width="1.0" />
<line x1="82.50" y1="531.72" x2="85.00" y2="531.72" stroke="#000" stroke-width="1.0" />
<line x1="82.50" y1="526.18" x2="85.00" y2="526.18" stroke="#000" stroke-width="1.0" />
<line x1="82.50" y1="520.64" x2="85.00" y2="520.64" stroke="#000" stroke-width="1.0" />
<line x1="80.00" y1="515.10" x2="85.00" y2="515.10" stroke="#000" stroke-width="1.3" />
<text x="70.0" y="519.9" font-size="13.8" text-anchor="end" fill="#000" stroke="#000" >1.0</text>
<line x1="82.50" y1="509.56" x2="85.00" y2="509.56" stroke="#000" stroke-width="1.0" />
<line x1="82.50" y1="504.02" x2="85.00" y2="504.02" stroke="#000" stroke-width="1.0" />
<line x1="82.50" y1="498.48" x2="85.00" y2="498.48" stroke="#000" stroke-width="1.0" />
<line x1="82.50" y1="492.94" x2="85.00" y2="492.94" stroke="#000" stroke-width="1.0" />
<line x1="80.00" y1="487.40" x2="85.00" y2="487.40" stroke="#000" stroke-width="1.3" />
<text x="70.0" y="492.20000000000005" font-size="13.8" text-anchor="end" fill="#000" stroke="#000" >2.0</text>
<line x1="82.50" y1="481.86" x2="85.00" y2="481.86" stroke="#000" stroke-width="1.0" />
<line x1="82.50" y1="476.32" x2="85.00" y2="476.32" stroke="#000" stroke-width="1.0" />
<line x1="82.50" y1="470.78" x2="85.00" y2="470.78" stroke="#000" stroke-width="1.0" />
<line x1="82.50" y1="465.24" x2="85.00" y2="465.24" stroke="#000" stroke-width="1.0" />
<line x1="80.00" y1="459.70" x2="85.00" y2="459.70" stroke="#000" stroke-width="1.3" />
<text x="70.0" y="464.50000000000006" font-size="13.8" text-anchor="end" fill="#000" stroke="#000" >3.0</text>
<line x1="82.50" y1="454.16" x2="85.00" y2="454.16" stroke="#000" stroke-width="1.0" />
<line x1="82.50" y1="448.62" x2="85.00" y2="448.62" stroke="#000" stroke-width="1.0" />
<line x1="82.50" y1="443.08" x2="85.00" y2="443.08" stroke="#000" stroke-width="1.0" />
<line x1="82.50" y1="437.54" x2="85.00" y2="437.54" stroke="#000" stroke-width="1.0" />
<line x1="80.00" y1="432.00" x2="85.00" y2="432.00" stroke="#000" stroke-width="1.3" />
<text x="70.0" y="436.8" font-size="13.8" text-anchor="end" fill="#000" stroke="#000" >4.0</text>
<line x1="85.00" y1="598.20" x2="85.00" y2="603.20" stroke="#000" stroke-width="1.3" />
<text x="85.0" y="622" font-size="13.8" text-anchor="middle" fill="#000" stroke="#000" >-2.0</text>
<line x1="91.63" y1="598.20" x2="91.63" y2="600.70" stroke="#000" stroke-width="1.0" />
<line x1="98.26" y1="598.20" x2="98.26" y2="600.70" stroke="#000" stroke-width="1.0" />
<line x1="104.90" y1="598.20" x2="104.90" y2="600.70" stroke="#000" stroke-width="1.0" />
<line x1="111.53" y1="598.20" x2="111.53" y2="600.70" stroke="#000" stroke-width="1.0" />
<line x1="118.16" y1="598.20" x2="118.16" y2="603.20" stroke="#000" stroke-width="1.3" />
<text x="118.16" y="622" font-size="13.8" text-anchor="middle" fill="#000" stroke="#000" >-1.0</text>
<line x1="124.79" y1="598.20" x2="124.79" y2="600.70" stroke="#000" stroke-width="1.0" />
<line x1="131.42" y1="598.20" x2="131.42" y2="600.70" stroke="#000" stroke-width="1.0" />
<line x1="138.06" y1="598.20" x2="138.06" y2="600.70" stroke="#000" stroke-width="1.0" />
<line x1="144.69" y1="598.20" x2="144.69" y2="600.70" stroke="#000" stroke-width="1.0" />
<line x1="151.32" y1="598.20" x2="151.32" y2="603.20" stroke="#000" stroke-width="1.3" />
<text x="151.32" y="622" font-size="13.8" text-anchor="middle" fill="#000" stroke="#000" >0.0</text>
<line x1="157.95" y1="598.20" x2="157.95" y2="600.70" stroke="#000" stroke-width="1.0" />
<line x1="164.58" y1="598.20" x2="164.58" y2="600.70" stroke="#000" stroke-width="1.0" />
<line x1="171.22" y1="598.20" x2="171.22" y2="600.70" stroke="#000" stroke-width="1.0" />
<line x1="177.85" y1="598.20" x2="177.85" y2="600.70" stroke="#000" stroke-width="1.0" />
<line x1="184.48" y1="598.20" x2="184.48" y2="603.20" stroke="#000" stroke-width="1.3" />
<text x="184.48000000000002" y="622" font-size="13.8" text-anchor="middle" fill="#000" stroke="#000" >1.0</text>
<line x1="191.11" y1="598.20" x2="191.11" y2="600.70" stroke="#000" stroke-width="1.0" />
<line x1="197.74" y1="598.20" x2="197.74" y2="600.70" stroke="#000" stroke-width="1.0" />
<line x1="204.38" y1="598.20" x2="204.38" y2="600.70" stroke="#000" stroke-width="1.0" />
<line x1="211.01" y1="598.20" x2="211.01" y2="600.70" stroke="#000" stroke-width="1.0" />
<line x1="217.64" y1="598.20" x2="217.64" y2="603.20" stroke="#000" stroke-width="1.3" />
<text x="217.64000000000001" y="622" font-size="13.8" text-anchor="middle" fill="#000" stroke="#000" >2.0</text>
<line x1="224.27" y1="598.20" x2="224.27" y2="600.70" stroke="#000" stroke-width="1.0" />
<line x1="230.90" y1="598.20" x2="230.90" y2="600.70" stroke="#000" stroke-width="1.0" />
<line x1="237.54" y1="598.20" x2="237.54" y2="600.70" stroke="#000" stroke-width="1.0" />
<line x1="244.17" y1="598.20" x2="244.17" y2="600.70" stroke="#000" stroke-width="1.0" />
<line x1="250.80" y1="598.20" x2="250.80" y2="603.20" stroke="#000" stroke-width="1.3" />
<text x="250.8" y="622" font-size="13.8" text-anchor="middle" fill="#000" stroke="#000" >3.0</text>
<text x="84.0" y="423" font-size="15.2" text-anchor="start" fill="#000" stroke="#000" >(d) 1950-1977</text>
<text x="217.5" y="457" font-size="13.5" text-anchor="middle" fill="#000" stroke="#000" >r=0.11</text>
<text transform="translate(38.0,515.1) rotate(-90)" font-size="13.8" text-anchor="middle" stroke="#000">Pacific-RTDW index</text>
<text x="167.9" y="641" font-size="13.8" text-anchor="middle" fill="#000" stroke="#000" >Niño3.4 index</text>
<circle cx="350.4" cy="433.1" r="2.5" fill="none" stroke="#000" stroke-width="1.35"/>
<circle cx="356.1" cy="496.6" r="2.5" fill="none" stroke="#000" stroke-width="1.35"/>
<circle cx="413.3" cy="510.5" r="2.5" fill="none" stroke="#000" stroke-width="1.35"/>
<circle cx="429.5" cy="506.4" r="2.5" fill="none" stroke="#000" stroke-width="1.35"/>
<circle cx="465.8" cy="510.7" r="2.5" fill="none" stroke="#000" stroke-width="1.35"/>
<circle cx="384.1" cy="516.2" r="2.5" fill="none" stroke="#000" stroke-width="1.35"/>
<circle cx="365.9" cy="526.6" r="2.5" fill="none" stroke="#000" stroke-width="1.35"/>
<circle cx="383.5" cy="526.6" r="2.5" fill="none" stroke="#000" stroke-width="1.35"/>
<circle cx="387.9" cy="524.9" r="2.5" fill="none" stroke="#000" stroke-width="1.35"/>
<circle cx="405.2" cy="525.5" r="2.5" fill="none" stroke="#000" stroke-width="1.35"/>
<circle cx="429.5" cy="525.5" r="2.5" fill="none" stroke="#000" stroke-width="1.35"/>
<circle cx="432" cy="528.1" r="2.5" fill="none" stroke="#000" stroke-width="1.35"/>
<circle cx="436.7" cy="523.7" r="2.5" fill="none" stroke="#000" stroke-width="1.35"/>
<circle cx="430.9" cy="534.7" r="2.5" fill="none" stroke="#000" stroke-width="1.35"/>
<circle cx="441.9" cy="532.4" r="2.5" fill="none" stroke="#000" stroke-width="1.35"/>
<circle cx="397.4" cy="536.4" r="2.5" fill="none" stroke="#000" stroke-width="1.35"/>
<circle cx="398.3" cy="537" r="2.5" fill="none" stroke="#000" stroke-width="1.35"/>
<circle cx="358.4" cy="538.7" r="2.5" fill="none" stroke="#000" stroke-width="1.35"/>
<circle cx="359.9" cy="542.2" r="2.5" fill="none" stroke="#000" stroke-width="1.35"/>
<circle cx="385.9" cy="541.3" r="2.5" fill="none" stroke="#000" stroke-width="1.35"/>
<circle cx="393.1" cy="542.8" r="2.5" fill="none" stroke="#000" stroke-width="1.35"/>
<circle cx="420.5" cy="540.5" r="2.5" fill="none" stroke="#000" stroke-width="1.35"/>
<circle cx="421.4" cy="544.8" r="2.5" fill="none" stroke="#000" stroke-width="1.35"/>
<circle cx="383.3" cy="546.8" r="2.5" fill="none" stroke="#000" stroke-width="1.35"/>
<circle cx="383.5" cy="551.2" r="2.5" fill="none" stroke="#000" stroke-width="1.35"/>
<circle cx="402.9" cy="549.1" r="2.5" fill="none" stroke="#000" stroke-width="1.35"/>
<circle cx="403.8" cy="552.6" r="2.5" fill="none" stroke="#000" stroke-width="1.35"/>
<circle cx="409.8" cy="556.6" r="2.5" fill="none" stroke="#000" stroke-width="1.35"/>
<circle cx="373.4" cy="558.1" r="2.5" fill="none" stroke="#000" stroke-width="1.35"/>
<circle cx="381" cy="565.6" r="2.5" fill="none" stroke="#000" stroke-width="1.35"/>
<circle cx="389.3" cy="568.8" r="2.5" fill="none" stroke="#000" stroke-width="1.35"/>
<circle cx="398.3" cy="570.8" r="2.5" fill="none" stroke="#000" stroke-width="1.35"/>
<circle cx="401.7" cy="569.9" r="2.5" fill="none" stroke="#000" stroke-width="1.35"/>
<circle cx="412.7" cy="566.5" r="2.5" fill="none" stroke="#000" stroke-width="1.35"/>
<circle cx="438.4" cy="563.6" r="2.5" fill="none" stroke="#000" stroke-width="1.35"/>
<circle cx="476.8" cy="570.2" r="2.5" fill="none" stroke="#000" stroke-width="1.35"/>
<circle cx="481.7" cy="576" r="2.5" fill="none" stroke="#000" stroke-width="1.35"/>
<circle cx="492.1" cy="570.2" r="2.5" fill="none" stroke="#000" stroke-width="1.35"/>
<circle cx="420.8" cy="582.3" r="2.5" fill="none" stroke="#000" stroke-width="1.35"/>
<circle cx="444.5" cy="580" r="2.5" fill="none" stroke="#000" stroke-width="1.35"/>
<circle cx="460" cy="594.7" r="2.5" fill="none" stroke="#000" stroke-width="1.35"/>
<line x1="350.40" y1="523.20" x2="492.10" y2="570.20" stroke="#000" stroke-width="1.5" />
<rect x="343.8" y="431.8" width="165.70" height="166.20" fill="none" stroke="#000" stroke-width="1.6"/>
<line x1="338.80" y1="598.00" x2="343.80" y2="598.00" stroke="#000" stroke-width="1.3" />
<text x="328.8" y="602.8" font-size="13.8" text-anchor="end" fill="#000" stroke="#000" >-2.0</text>
<line x1="341.30" y1="592.46" x2="343.80" y2="592.46" stroke="#000" stroke-width="1.0" />
<line x1="341.30" y1="586.92" x2="343.80" y2="586.92" stroke="#000" stroke-width="1.0" />
<line x1="341.30" y1="581.38" x2="343.80" y2="581.38" stroke="#000" stroke-width="1.0" />
<line x1="341.30" y1="575.84" x2="343.80" y2="575.84" stroke="#000" stroke-width="1.0" />
<line x1="338.80" y1="570.30" x2="343.80" y2="570.30" stroke="#000" stroke-width="1.3" />
<text x="328.8" y="575.0999999999999" font-size="13.8" text-anchor="end" fill="#000" stroke="#000" >-1.0</text>
<line x1="341.30" y1="564.76" x2="343.80" y2="564.76" stroke="#000" stroke-width="1.0" />
<line x1="341.30" y1="559.22" x2="343.80" y2="559.22" stroke="#000" stroke-width="1.0" />
<line x1="341.30" y1="553.68" x2="343.80" y2="553.68" stroke="#000" stroke-width="1.0" />
<line x1="341.30" y1="548.14" x2="343.80" y2="548.14" stroke="#000" stroke-width="1.0" />
<line x1="338.80" y1="542.60" x2="343.80" y2="542.60" stroke="#000" stroke-width="1.3" />
<text x="328.8" y="547.4" font-size="13.8" text-anchor="end" fill="#000" stroke="#000" >0.0</text>
<line x1="341.30" y1="537.06" x2="343.80" y2="537.06" stroke="#000" stroke-width="1.0" />
<line x1="341.30" y1="531.52" x2="343.80" y2="531.52" stroke="#000" stroke-width="1.0" />
<line x1="341.30" y1="525.98" x2="343.80" y2="525.98" stroke="#000" stroke-width="1.0" />
<line x1="341.30" y1="520.44" x2="343.80" y2="520.44" stroke="#000" stroke-width="1.0" />
<line x1="338.80" y1="514.90" x2="343.80" y2="514.90" stroke="#000" stroke-width="1.3" />
<text x="328.8" y="519.6999999999999" font-size="13.8" text-anchor="end" fill="#000" stroke="#000" >1.0</text>
<line x1="341.30" y1="509.36" x2="343.80" y2="509.36" stroke="#000" stroke-width="1.0" />
<line x1="341.30" y1="503.82" x2="343.80" y2="503.82" stroke="#000" stroke-width="1.0" />
<line x1="341.30" y1="498.28" x2="343.80" y2="498.28" stroke="#000" stroke-width="1.0" />
<line x1="341.30" y1="492.74" x2="343.80" y2="492.74" stroke="#000" stroke-width="1.0" />
<line x1="338.80" y1="487.20" x2="343.80" y2="487.20" stroke="#000" stroke-width="1.3" />
<text x="328.8" y="492.0" font-size="13.8" text-anchor="end" fill="#000" stroke="#000" >2.0</text>
<line x1="341.30" y1="481.66" x2="343.80" y2="481.66" stroke="#000" stroke-width="1.0" />
<line x1="341.30" y1="476.12" x2="343.80" y2="476.12" stroke="#000" stroke-width="1.0" />
<line x1="341.30" y1="470.58" x2="343.80" y2="470.58" stroke="#000" stroke-width="1.0" />
<line x1="341.30" y1="465.04" x2="343.80" y2="465.04" stroke="#000" stroke-width="1.0" />
<line x1="338.80" y1="459.50" x2="343.80" y2="459.50" stroke="#000" stroke-width="1.3" />
<text x="328.8" y="464.3" font-size="13.8" text-anchor="end" fill="#000" stroke="#000" >3.0</text>
<line x1="341.30" y1="453.96" x2="343.80" y2="453.96" stroke="#000" stroke-width="1.0" />
<line x1="341.30" y1="448.42" x2="343.80" y2="448.42" stroke="#000" stroke-width="1.0" />
<line x1="341.30" y1="442.88" x2="343.80" y2="442.88" stroke="#000" stroke-width="1.0" />
<line x1="341.30" y1="437.34" x2="343.80" y2="437.34" stroke="#000" stroke-width="1.0" />
<line x1="338.80" y1="431.80" x2="343.80" y2="431.80" stroke="#000" stroke-width="1.3" />
<text x="328.8" y="436.6" font-size="13.8" text-anchor="end" fill="#000" stroke="#000" >4.0</text>
<line x1="343.80" y1="598.00" x2="343.80" y2="603.00" stroke="#000" stroke-width="1.3" />
<text x="343.8" y="622" font-size="13.8" text-anchor="middle" fill="#000" stroke="#000" >-2.0</text>
<line x1="350.43" y1="598.00" x2="350.43" y2="600.50" stroke="#000" stroke-width="1.0" />
<line x1="357.06" y1="598.00" x2="357.06" y2="600.50" stroke="#000" stroke-width="1.0" />
<line x1="363.68" y1="598.00" x2="363.68" y2="600.50" stroke="#000" stroke-width="1.0" />
<line x1="370.31" y1="598.00" x2="370.31" y2="600.50" stroke="#000" stroke-width="1.0" />
<line x1="376.94" y1="598.00" x2="376.94" y2="603.00" stroke="#000" stroke-width="1.3" />
<text x="376.94" y="622" font-size="13.8" text-anchor="middle" fill="#000" stroke="#000" >-1.0</text>
<line x1="383.57" y1="598.00" x2="383.57" y2="600.50" stroke="#000" stroke-width="1.0" />
<line x1="390.20" y1="598.00" x2="390.20" y2="600.50" stroke="#000" stroke-width="1.0" />
<line x1="396.82" y1="598.00" x2="396.82" y2="600.50" stroke="#000" stroke-width="1.0" />
<line x1="403.45" y1="598.00" x2="403.45" y2="600.50" stroke="#000" stroke-width="1.0" />
<line x1="410.08" y1="598.00" x2="410.08" y2="603.00" stroke="#000" stroke-width="1.3" />
<text x="410.08000000000004" y="622" font-size="13.8" text-anchor="middle" fill="#000" stroke="#000" >0.0</text>
<line x1="416.71" y1="598.00" x2="416.71" y2="600.50" stroke="#000" stroke-width="1.0" />
<line x1="423.34" y1="598.00" x2="423.34" y2="600.50" stroke="#000" stroke-width="1.0" />
<line x1="429.96" y1="598.00" x2="429.96" y2="600.50" stroke="#000" stroke-width="1.0" />
<line x1="436.59" y1="598.00" x2="436.59" y2="600.50" stroke="#000" stroke-width="1.0" />
<line x1="443.22" y1="598.00" x2="443.22" y2="603.00" stroke="#000" stroke-width="1.3" />
<text x="443.22" y="622" font-size="13.8" text-anchor="middle" fill="#000" stroke="#000" >1.0</text>
<line x1="449.85" y1="598.00" x2="449.85" y2="600.50" stroke="#000" stroke-width="1.0" />
<line x1="456.48" y1="598.00" x2="456.48" y2="600.50" stroke="#000" stroke-width="1.0" />
<line x1="463.10" y1="598.00" x2="463.10" y2="600.50" stroke="#000" stroke-width="1.0" />
<line x1="469.73" y1="598.00" x2="469.73" y2="600.50" stroke="#000" stroke-width="1.0" />
<line x1="476.36" y1="598.00" x2="476.36" y2="603.00" stroke="#000" stroke-width="1.3" />
<text x="476.36" y="622" font-size="13.8" text-anchor="middle" fill="#000" stroke="#000" >2.0</text>
<line x1="482.99" y1="598.00" x2="482.99" y2="600.50" stroke="#000" stroke-width="1.0" />
<line x1="489.62" y1="598.00" x2="489.62" y2="600.50" stroke="#000" stroke-width="1.0" />
<line x1="496.24" y1="598.00" x2="496.24" y2="600.50" stroke="#000" stroke-width="1.0" />
<line x1="502.87" y1="598.00" x2="502.87" y2="600.50" stroke="#000" stroke-width="1.0" />
<line x1="509.50" y1="598.00" x2="509.50" y2="603.00" stroke="#000" stroke-width="1.3" />
<text x="509.5" y="622" font-size="13.8" text-anchor="middle" fill="#000" stroke="#000" >3.0</text>
<text x="342.8" y="423" font-size="15.2" text-anchor="start" fill="#000" stroke="#000" >(e) 1978-2018</text>
<text x="468.8" y="458.2" font-size="13.5" text-anchor="middle" fill="#000" stroke="#000" >r=-0.4</text>
<text x="469.6" y="474.5" font-size="13.5" text-anchor="middle" fill="#000" stroke="#000" >p&lt;0.01</text>
<text transform="translate(296.8,514.9) rotate(-90)" font-size="13.8" text-anchor="middle" stroke="#000">Pacific-RTDW index</text>
<text x="426.65" y="641" font-size="13.8" text-anchor="middle" fill="#000" stroke="#000" >Niño3.4 index</text>
</svg>
</body></html>
